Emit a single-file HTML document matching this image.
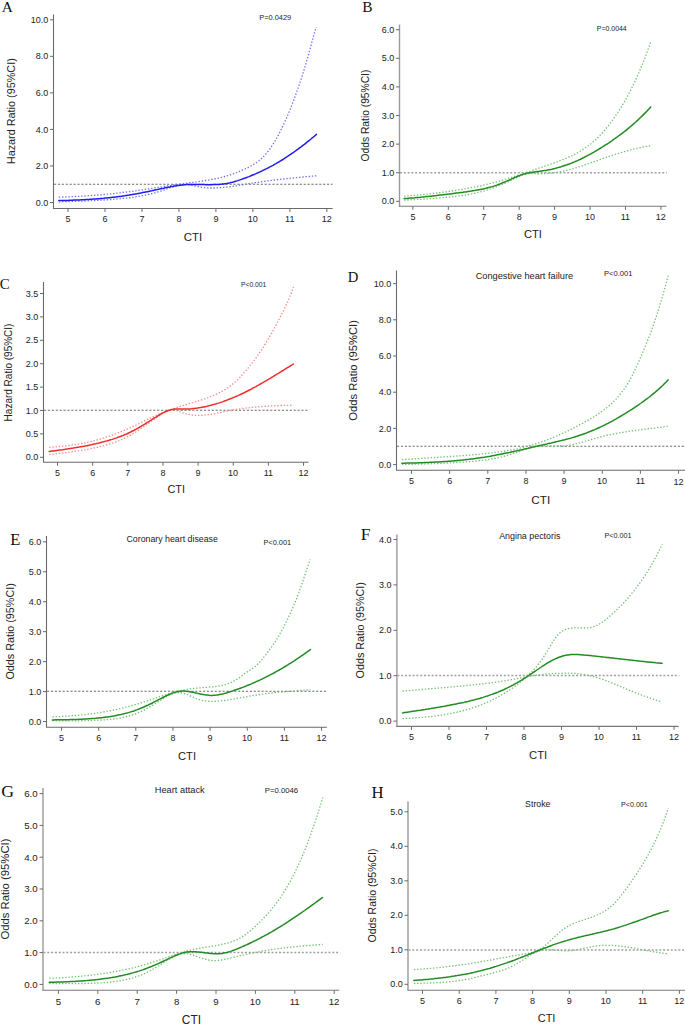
<!DOCTYPE html>
<html><head><meta charset="utf-8"><style>
html,body{margin:0;padding:0;background:#fff;}
body{width:685px;height:1025px;overflow:hidden;}
svg{display:block;}
</style></head><body>
<svg width="685" height="1025" viewBox="0 0 685 1025">
<rect width="685" height="1025" fill="#fff"/>
<path d="M53.50,14.40 L53.50,208.50 L332.60,208.50" fill="none" stroke="#6a6a6a" stroke-width="1.1"/>
<line x1="50.00" y1="202.50" x2="53.50" y2="202.50" stroke="#6a6a6a" stroke-width="1"/>
<text x="35.65" y="205.60" font-family="Liberation Sans" font-size="9.00" fill="#222">0.0</text>
<line x1="50.00" y1="165.96" x2="53.50" y2="165.96" stroke="#6a6a6a" stroke-width="1"/>
<text x="35.65" y="169.06" font-family="Liberation Sans" font-size="9.00" fill="#222">2.0</text>
<line x1="50.00" y1="129.42" x2="53.50" y2="129.42" stroke="#6a6a6a" stroke-width="1"/>
<text x="35.65" y="132.53" font-family="Liberation Sans" font-size="9.00" fill="#222">4.0</text>
<line x1="50.00" y1="92.88" x2="53.50" y2="92.88" stroke="#6a6a6a" stroke-width="1"/>
<text x="35.65" y="95.98" font-family="Liberation Sans" font-size="9.00" fill="#222">6.0</text>
<line x1="50.00" y1="56.34" x2="53.50" y2="56.34" stroke="#6a6a6a" stroke-width="1"/>
<text x="35.65" y="59.45" font-family="Liberation Sans" font-size="9.00" fill="#222">8.0</text>
<line x1="50.00" y1="19.80" x2="53.50" y2="19.80" stroke="#6a6a6a" stroke-width="1"/>
<text x="30.65" y="22.91" font-family="Liberation Sans" font-size="9.00" fill="#222">10.0</text>
<line x1="68.00" y1="208.50" x2="68.00" y2="212.00" stroke="#6a6a6a" stroke-width="1"/>
<text x="65.50" y="221.96" font-family="Liberation Sans" font-size="9.00" fill="#222">5</text>
<line x1="104.98" y1="208.50" x2="104.98" y2="212.00" stroke="#6a6a6a" stroke-width="1"/>
<text x="102.46" y="222.00" font-family="Liberation Sans" font-size="9.00" fill="#222">6</text>
<line x1="141.96" y1="208.50" x2="141.96" y2="212.00" stroke="#6a6a6a" stroke-width="1"/>
<text x="139.46" y="222.00" font-family="Liberation Sans" font-size="9.00" fill="#222">7</text>
<line x1="178.94" y1="208.50" x2="178.94" y2="212.00" stroke="#6a6a6a" stroke-width="1"/>
<text x="176.42" y="222.00" font-family="Liberation Sans" font-size="9.00" fill="#222">8</text>
<line x1="215.92" y1="208.50" x2="215.92" y2="212.00" stroke="#6a6a6a" stroke-width="1"/>
<text x="213.42" y="222.00" font-family="Liberation Sans" font-size="9.00" fill="#222">9</text>
<line x1="252.90" y1="208.50" x2="252.90" y2="212.00" stroke="#6a6a6a" stroke-width="1"/>
<text x="247.75" y="222.00" font-family="Liberation Sans" font-size="9.00" fill="#222">10</text>
<line x1="289.88" y1="208.50" x2="289.88" y2="212.00" stroke="#6a6a6a" stroke-width="1"/>
<text x="285.11" y="222.00" font-family="Liberation Sans" font-size="9.00" fill="#222">11</text>
<line x1="326.86" y1="208.50" x2="326.86" y2="212.00" stroke="#6a6a6a" stroke-width="1"/>
<text x="321.75" y="222.05" font-family="Liberation Sans" font-size="9.00" fill="#222">12</text>
<line x1="54.00" y1="184.30" x2="332.60" y2="184.30" stroke="#6e6e6e" stroke-width="1.1" stroke-dasharray="2.2 1.7"/>
<path d="M58.8,197.1 L60.3,197.1 L61.8,197.1 L63.3,197.0 L64.8,197.0 L66.3,196.9 L67.8,196.8 L69.3,196.8 L70.8,196.7 L72.3,196.7 L73.8,196.6 L75.3,196.5 L76.8,196.4 L78.3,196.4 L79.8,196.3 L81.2,196.2 L82.7,196.1 L84.2,196.0 L85.7,195.9 L87.2,195.8 L88.7,195.7 L90.2,195.6 L91.7,195.5 L93.2,195.4 L94.7,195.3 L96.2,195.2 L97.7,195.0 L99.2,194.9 L100.7,194.8 L102.2,194.7 L103.7,194.5 L105.2,194.4 L106.7,194.2 L108.2,194.1 L109.7,194.0 L111.2,193.8 L112.7,193.6 L114.2,193.5 L115.7,193.3 L117.2,193.1 L118.7,193.0 L120.2,192.8 L121.7,192.6 L123.1,192.4 L124.6,192.3 L126.1,192.1 L127.6,191.9 L129.1,191.7 L130.6,191.5 L132.1,191.3 L133.6,191.1 L135.1,190.9 L136.6,190.7 L138.1,190.4 L139.6,190.2 L141.1,190.0 L142.6,189.8 L144.1,189.6 L145.6,189.3 L147.1,189.1 L148.6,188.9 L150.1,188.6 L151.6,188.4 L153.1,188.2 L154.6,187.9 L156.1,187.7 L157.6,187.5 L159.1,187.2 L160.6,187.0 L162.1,186.8 L163.6,186.5 L165.1,186.3 L166.5,186.0 L168.0,185.8 L169.5,185.6 L171.0,185.4 L172.5,185.1 L174.0,184.9 L175.5,184.7 L177.0,184.5 L178.5,184.3 L180.0,184.1 L181.5,183.9 L183.0,183.7 L184.5,183.5 L186.0,183.3 L187.5,183.1 L189.0,182.9 L190.5,182.7 L192.0,182.5 L193.5,182.3 L195.0,182.1 L196.5,181.9 L198.0,181.6 L199.5,181.4 L201.0,181.2 L202.5,181.0 L204.0,180.8 L205.5,180.5 L207.0,180.3 L208.5,180.1 L209.9,179.8 L211.4,179.5 L212.9,179.3 L214.4,179.0 L215.9,178.7 L217.4,178.4 L218.9,178.0 L220.4,177.7 L221.9,177.3 L223.4,176.9 L224.9,176.5 L226.4,176.1 L227.9,175.6 L229.4,175.2 L230.9,174.7 L232.4,174.2 L233.9,173.6 L235.4,173.0 L236.9,172.5 L238.4,171.9 L239.9,171.2 L241.4,170.6 L242.9,169.9 L244.4,169.2 L245.9,168.5 L247.4,167.8 L248.9,167.1 L250.4,166.3 L251.8,165.5 L253.3,164.6 L254.8,163.7 L256.3,162.7 L257.8,161.6 L259.3,160.5 L260.8,159.2 L262.3,157.8 L263.8,156.3 L265.3,154.6 L266.8,152.9 L268.3,151.0 L269.8,149.0 L271.3,146.8 L272.8,144.6 L274.3,142.2 L275.8,139.6 L277.3,137.0 L278.8,134.2 L280.3,131.3 L281.8,128.2 L283.3,125.1 L284.8,121.8 L286.3,118.4 L287.8,115.0 L289.3,111.4 L290.8,107.8 L292.3,104.0 L293.8,100.1 L295.2,96.2 L296.7,92.0 L298.2,87.8 L299.7,83.4 L301.2,78.9 L302.7,74.3 L304.2,69.5 L305.7,64.5 L307.2,59.3 L308.7,54.0 L310.2,48.5 L311.7,42.8 L313.2,37.3 L314.7,32.0 L316.2,27.3" fill="none" stroke="#7070f2" stroke-width="1.3" stroke-dasharray="1.4 1.8"/>
<path d="M58.8,201.8 L60.3,201.8 L61.8,201.7 L63.3,201.7 L64.8,201.7 L66.3,201.6 L67.8,201.6 L69.3,201.5 L70.8,201.5 L72.3,201.4 L73.8,201.4 L75.3,201.3 L76.8,201.3 L78.3,201.2 L79.8,201.2 L81.3,201.1 L82.8,201.1 L84.3,201.0 L85.8,200.9 L87.3,200.9 L88.8,200.8 L90.3,200.7 L91.7,200.7 L93.2,200.6 L94.7,200.5 L96.2,200.4 L97.7,200.3 L99.2,200.3 L100.7,200.2 L102.2,200.1 L103.7,200.0 L105.2,199.9 L106.7,199.8 L108.2,199.7 L109.7,199.6 L111.2,199.5 L112.7,199.4 L114.2,199.2 L115.7,199.1 L117.2,199.0 L118.7,198.9 L120.2,198.7 L121.7,198.6 L123.2,198.4 L124.7,198.3 L126.2,198.1 L127.7,197.9 L129.2,197.8 L130.7,197.6 L132.2,197.4 L133.7,197.2 L135.2,196.9 L136.7,196.7 L138.2,196.5 L139.7,196.2 L141.2,196.0 L142.7,195.7 L144.2,195.4 L145.7,195.1 L147.2,194.8 L148.7,194.4 L150.2,194.1 L151.7,193.7 L153.2,193.3 L154.7,192.9 L156.1,192.5 L157.6,192.0 L159.1,191.6 L160.6,191.1 L162.1,190.6 L163.6,190.1 L165.1,189.6 L166.6,189.0 L168.1,188.5 L169.6,188.0 L171.1,187.5 L172.6,187.0 L174.1,186.6 L175.6,186.1 L177.1,185.7 L178.6,185.4 L180.1,185.1 L181.6,184.9 L183.1,184.7 L184.6,184.6 L186.1,184.6 L187.6,184.7 L189.1,184.8 L190.6,185.0 L192.1,185.3 L193.6,185.6 L195.1,185.9 L196.6,186.3 L198.1,186.6 L199.6,186.9 L201.1,187.2 L202.6,187.4 L204.1,187.6 L205.6,187.7 L207.1,187.9 L208.6,187.9 L210.1,188.0 L211.6,188.0 L213.1,188.0 L214.6,188.0 L216.1,188.0 L217.6,187.9 L219.1,187.8 L220.5,187.7 L222.0,187.6 L223.5,187.4 L225.0,187.3 L226.5,187.1 L228.0,186.9 L229.5,186.7 L231.0,186.5 L232.5,186.3 L234.0,186.0 L235.5,185.8 L237.0,185.6 L238.5,185.3 L240.0,185.1 L241.5,184.8 L243.0,184.6 L244.5,184.3 L246.0,184.1 L247.5,183.9 L249.0,183.6 L250.5,183.4 L252.0,183.2 L253.5,182.9 L255.0,182.7 L256.5,182.5 L258.0,182.3 L259.5,182.0 L261.0,181.8 L262.5,181.6 L264.0,181.4 L265.5,181.2 L267.0,181.0 L268.5,180.8 L270.0,180.6 L271.5,180.4 L273.0,180.2 L274.5,180.0 L276.0,179.8 L277.5,179.7 L279.0,179.5 L280.5,179.3 L282.0,179.1 L283.5,179.0 L284.9,178.8 L286.4,178.6 L287.9,178.5 L289.4,178.3 L290.9,178.2 L292.4,178.0 L293.9,177.9 L295.4,177.7 L296.9,177.6 L298.4,177.4 L299.9,177.3 L301.4,177.1 L302.9,177.0 L304.4,176.9 L305.9,176.7 L307.4,176.6 L308.9,176.5 L310.4,176.3 L311.9,176.2 L313.4,176.1 L314.9,175.9 L316.4,175.8" fill="none" stroke="#7070f2" stroke-width="1.3" stroke-dasharray="1.4 1.8"/>
<path d="M58.8,200.6 L60.3,200.6 L61.8,200.5 L63.3,200.5 L64.8,200.4 L66.3,200.4 L67.8,200.4 L69.3,200.3 L70.8,200.3 L72.3,200.2 L73.8,200.1 L75.3,200.1 L76.8,200.0 L78.3,200.0 L79.8,199.9 L81.3,199.8 L82.8,199.7 L84.3,199.7 L85.8,199.6 L87.3,199.5 L88.8,199.4 L90.3,199.3 L91.7,199.2 L93.2,199.1 L94.7,199.0 L96.2,198.9 L97.7,198.8 L99.2,198.7 L100.7,198.5 L102.2,198.4 L103.7,198.3 L105.2,198.1 L106.7,198.0 L108.2,197.8 L109.7,197.7 L111.2,197.5 L112.7,197.3 L114.2,197.2 L115.7,197.0 L117.2,196.8 L118.7,196.6 L120.2,196.4 L121.7,196.2 L123.2,196.0 L124.7,195.8 L126.2,195.5 L127.7,195.3 L129.2,195.1 L130.7,194.8 L132.2,194.6 L133.7,194.3 L135.2,194.0 L136.7,193.8 L138.2,193.5 L139.7,193.2 L141.2,192.9 L142.7,192.6 L144.2,192.3 L145.7,192.0 L147.2,191.7 L148.7,191.4 L150.2,191.1 L151.7,190.8 L153.2,190.4 L154.7,190.1 L156.1,189.8 L157.6,189.5 L159.1,189.1 L160.6,188.8 L162.1,188.5 L163.6,188.2 L165.1,187.8 L166.6,187.5 L168.1,187.2 L169.6,186.9 L171.1,186.6 L172.6,186.4 L174.1,186.1 L175.6,185.9 L177.1,185.6 L178.6,185.4 L180.1,185.2 L181.6,185.0 L183.1,184.9 L184.6,184.7 L186.1,184.6 L187.6,184.5 L189.1,184.5 L190.6,184.4 L192.1,184.4 L193.6,184.4 L195.1,184.4 L196.6,184.5 L198.1,184.5 L199.6,184.5 L201.1,184.6 L202.6,184.6 L204.1,184.6 L205.6,184.7 L207.1,184.7 L208.6,184.7 L210.1,184.7 L211.6,184.7 L213.1,184.6 L214.6,184.6 L216.1,184.5 L217.6,184.5 L219.1,184.4 L220.5,184.2 L222.0,184.1 L223.5,183.9 L225.0,183.7 L226.5,183.5 L228.0,183.2 L229.5,182.9 L231.0,182.5 L232.5,182.2 L234.0,181.8 L235.5,181.3 L237.0,180.9 L238.5,180.4 L240.0,179.9 L241.5,179.4 L243.0,178.8 L244.5,178.3 L246.0,177.7 L247.5,177.1 L249.0,176.6 L250.5,176.0 L252.0,175.3 L253.5,174.7 L255.0,174.1 L256.5,173.4 L258.0,172.8 L259.5,172.1 L261.0,171.4 L262.5,170.7 L264.0,169.9 L265.5,169.2 L267.0,168.4 L268.5,167.7 L270.0,166.9 L271.5,166.1 L273.0,165.3 L274.5,164.4 L276.0,163.6 L277.5,162.7 L279.0,161.8 L280.5,160.9 L282.0,160.0 L283.5,159.1 L284.9,158.1 L286.4,157.1 L287.9,156.2 L289.4,155.2 L290.9,154.1 L292.4,153.1 L293.9,152.1 L295.4,151.0 L296.9,149.9 L298.4,148.8 L299.9,147.7 L301.4,146.6 L302.9,145.4 L304.4,144.3 L305.9,143.1 L307.4,141.9 L308.9,140.7 L310.4,139.5 L311.9,138.2 L313.4,137.0 L314.9,135.7 L316.4,134.4" fill="none" stroke="#1e1ef0" stroke-width="1.5" stroke-linecap="round" stroke-linejoin="round"/>
<text x="1.85" y="11.90" font-family="Liberation Serif" font-size="15.38" fill="#111">A</text>
<text transform="translate(14.84,164.17) rotate(-90)" x="0" y="0" font-family="Liberation Sans" font-size="10.84" fill="#222">Hazard Ratio (95%CI)</text>
<text x="183.73" y="241.39" font-family="Liberation Sans" font-size="11.43" fill="#222">CTI</text>
<text x="259.21" y="19.71" font-family="Liberation Sans" font-size="7.41" fill="#222">P=0.0429</text>
<line x1="399.50" y1="24.50" x2="399.50" y2="206.30" stroke="#9a9a9a" stroke-width="1.4"/>
<line x1="398.80" y1="206.30" x2="666.40" y2="206.30" stroke="#7a7a7a" stroke-width="1.1"/>
<line x1="396.00" y1="201.30" x2="399.50" y2="201.30" stroke="#6a6a6a" stroke-width="1"/>
<text x="381.65" y="204.41" font-family="Liberation Sans" font-size="9.00" fill="#222">0.0</text>
<line x1="396.00" y1="172.70" x2="399.50" y2="172.70" stroke="#6a6a6a" stroke-width="1"/>
<text x="381.65" y="175.81" font-family="Liberation Sans" font-size="9.00" fill="#222">1.0</text>
<line x1="396.00" y1="144.10" x2="399.50" y2="144.10" stroke="#6a6a6a" stroke-width="1"/>
<text x="381.65" y="147.21" font-family="Liberation Sans" font-size="9.00" fill="#222">2.0</text>
<line x1="396.00" y1="115.50" x2="399.50" y2="115.50" stroke="#6a6a6a" stroke-width="1"/>
<text x="381.65" y="118.61" font-family="Liberation Sans" font-size="9.00" fill="#222">3.0</text>
<line x1="396.00" y1="86.90" x2="399.50" y2="86.90" stroke="#6a6a6a" stroke-width="1"/>
<text x="381.65" y="90.01" font-family="Liberation Sans" font-size="9.00" fill="#222">4.0</text>
<line x1="396.00" y1="58.30" x2="399.50" y2="58.30" stroke="#6a6a6a" stroke-width="1"/>
<text x="381.65" y="61.41" font-family="Liberation Sans" font-size="9.00" fill="#222">5.0</text>
<line x1="396.00" y1="29.70" x2="399.50" y2="29.70" stroke="#6a6a6a" stroke-width="1"/>
<text x="381.65" y="32.80" font-family="Liberation Sans" font-size="9.00" fill="#222">6.0</text>
<line x1="412.90" y1="206.30" x2="412.90" y2="209.80" stroke="#6a6a6a" stroke-width="1"/>
<text x="410.40" y="219.76" font-family="Liberation Sans" font-size="9.00" fill="#222">5</text>
<line x1="448.33" y1="206.30" x2="448.33" y2="209.80" stroke="#6a6a6a" stroke-width="1"/>
<text x="445.81" y="219.80" font-family="Liberation Sans" font-size="9.00" fill="#222">6</text>
<line x1="483.76" y1="206.30" x2="483.76" y2="209.80" stroke="#6a6a6a" stroke-width="1"/>
<text x="481.26" y="219.80" font-family="Liberation Sans" font-size="9.00" fill="#222">7</text>
<line x1="519.19" y1="206.30" x2="519.19" y2="209.80" stroke="#6a6a6a" stroke-width="1"/>
<text x="516.67" y="219.80" font-family="Liberation Sans" font-size="9.00" fill="#222">8</text>
<line x1="554.62" y1="206.30" x2="554.62" y2="209.80" stroke="#6a6a6a" stroke-width="1"/>
<text x="552.12" y="219.80" font-family="Liberation Sans" font-size="9.00" fill="#222">9</text>
<line x1="590.05" y1="206.30" x2="590.05" y2="209.80" stroke="#6a6a6a" stroke-width="1"/>
<text x="584.90" y="219.80" font-family="Liberation Sans" font-size="9.00" fill="#222">10</text>
<line x1="625.48" y1="206.30" x2="625.48" y2="209.80" stroke="#6a6a6a" stroke-width="1"/>
<text x="620.71" y="219.80" font-family="Liberation Sans" font-size="9.00" fill="#222">11</text>
<line x1="660.91" y1="206.30" x2="660.91" y2="209.80" stroke="#6a6a6a" stroke-width="1"/>
<text x="655.80" y="219.85" font-family="Liberation Sans" font-size="9.00" fill="#222">12</text>
<line x1="400.00" y1="172.70" x2="666.70" y2="172.70" stroke="#a0a0a0" stroke-width="1.5" stroke-dasharray="2 1.8"/>
<path d="M404.1,196.2 L405.6,196.1 L407.1,195.9 L408.6,195.8 L410.1,195.7 L411.6,195.6 L413.1,195.5 L414.6,195.3 L416.1,195.2 L417.6,195.1 L419.0,194.9 L420.5,194.8 L422.0,194.7 L423.5,194.5 L425.0,194.4 L426.5,194.2 L428.0,194.0 L429.5,193.9 L431.0,193.7 L432.5,193.5 L434.0,193.4 L435.5,193.2 L437.0,193.0 L438.5,192.8 L440.0,192.6 L441.5,192.4 L443.0,192.2 L444.5,192.0 L445.9,191.8 L447.4,191.6 L448.9,191.4 L450.4,191.2 L451.9,191.0 L453.4,190.7 L454.9,190.5 L456.4,190.3 L457.9,190.0 L459.4,189.8 L460.9,189.5 L462.4,189.3 L463.9,189.0 L465.4,188.8 L466.9,188.5 L468.4,188.2 L469.9,187.9 L471.4,187.7 L472.8,187.4 L474.3,187.1 L475.8,186.8 L477.3,186.5 L478.8,186.1 L480.3,185.8 L481.8,185.5 L483.3,185.2 L484.8,184.8 L486.3,184.5 L487.8,184.1 L489.3,183.7 L490.8,183.4 L492.3,183.0 L493.8,182.6 L495.3,182.2 L496.8,181.8 L498.3,181.4 L499.8,180.9 L501.2,180.5 L502.7,180.1 L504.2,179.6 L505.7,179.2 L507.2,178.7 L508.7,178.2 L510.2,177.8 L511.7,177.3 L513.2,176.8 L514.7,176.3 L516.2,175.8 L517.7,175.3 L519.2,174.8 L520.7,174.3 L522.2,173.8 L523.7,173.3 L525.2,172.8 L526.7,172.3 L528.1,171.8 L529.6,171.3 L531.1,170.8 L532.6,170.3 L534.1,169.8 L535.6,169.3 L537.1,168.7 L538.6,168.2 L540.1,167.7 L541.6,167.2 L543.1,166.7 L544.6,166.2 L546.1,165.7 L547.6,165.2 L549.1,164.7 L550.6,164.2 L552.1,163.6 L553.6,163.1 L555.0,162.6 L556.5,162.0 L558.0,161.5 L559.5,160.9 L561.0,160.3 L562.5,159.7 L564.0,159.1 L565.5,158.5 L567.0,157.9 L568.5,157.2 L570.0,156.5 L571.5,155.8 L573.0,155.1 L574.5,154.4 L576.0,153.6 L577.5,152.8 L579.0,151.9 L580.5,151.1 L582.0,150.2 L583.4,149.2 L584.9,148.2 L586.4,147.2 L587.9,146.1 L589.4,145.0 L590.9,143.8 L592.4,142.5 L593.9,141.2 L595.4,139.9 L596.9,138.5 L598.4,137.0 L599.9,135.5 L601.4,133.9 L602.9,132.2 L604.4,130.5 L605.9,128.7 L607.4,126.9 L608.9,125.0 L610.3,123.1 L611.8,121.1 L613.3,119.0 L614.8,116.9 L616.3,114.7 L617.8,112.5 L619.3,110.1 L620.8,107.8 L622.3,105.3 L623.8,102.8 L625.3,100.2 L626.8,97.5 L628.3,94.7 L629.8,91.9 L631.3,88.9 L632.8,85.9 L634.3,82.8 L635.8,79.6 L637.2,76.4 L638.7,73.0 L640.2,69.5 L641.7,65.9 L643.2,62.2 L644.7,58.4 L646.2,54.5 L647.7,50.5 L649.2,46.4 L650.7,42.1" fill="none" stroke="#74c274" stroke-width="1.3" stroke-dasharray="1.4 1.8"/>
<path d="M404.1,200.1 L405.6,200.0 L407.1,200.0 L408.6,199.9 L410.1,199.8 L411.6,199.7 L413.0,199.7 L414.5,199.6 L416.0,199.5 L417.5,199.4 L419.0,199.4 L420.5,199.3 L422.0,199.2 L423.5,199.1 L425.0,199.0 L426.5,198.9 L428.0,198.8 L429.4,198.7 L430.9,198.6 L432.4,198.5 L433.9,198.4 L435.4,198.3 L436.9,198.2 L438.4,198.0 L439.9,197.9 L441.4,197.8 L442.9,197.6 L444.4,197.5 L445.8,197.4 L447.3,197.2 L448.8,197.1 L450.3,196.9 L451.8,196.7 L453.3,196.6 L454.8,196.4 L456.3,196.2 L457.8,196.0 L459.3,195.8 L460.8,195.6 L462.2,195.4 L463.7,195.2 L465.2,195.0 L466.7,194.7 L468.2,194.5 L469.7,194.2 L471.2,193.9 L472.7,193.6 L474.2,193.3 L475.7,193.0 L477.2,192.7 L478.6,192.3 L480.1,192.0 L481.6,191.6 L483.1,191.2 L484.6,190.8 L486.1,190.3 L487.6,189.9 L489.1,189.4 L490.6,188.9 L492.1,188.4 L493.6,187.8 L495.0,187.3 L496.5,186.7 L498.0,186.1 L499.5,185.5 L501.0,184.9 L502.5,184.2 L504.0,183.6 L505.5,182.9 L507.0,182.2 L508.5,181.6 L510.0,180.9 L511.4,180.2 L512.9,179.4 L514.4,178.7 L515.9,178.0 L517.4,177.3 L518.9,176.6 L520.4,176.0 L521.9,175.4 L523.4,174.8 L524.9,174.3 L526.4,174.0 L527.8,173.7 L529.3,173.5 L530.8,173.4 L532.3,173.5 L533.8,173.5 L535.3,173.6 L536.8,173.7 L538.3,173.8 L539.8,173.8 L541.3,173.8 L542.8,173.8 L544.2,173.7 L545.7,173.6 L547.2,173.5 L548.7,173.4 L550.2,173.3 L551.7,173.1 L553.2,172.9 L554.7,172.7 L556.2,172.5 L557.7,172.2 L559.2,172.0 L560.6,171.7 L562.1,171.4 L563.6,171.0 L565.1,170.7 L566.6,170.4 L568.1,170.0 L569.6,169.6 L571.1,169.2 L572.6,168.8 L574.1,168.4 L575.6,167.9 L577.0,167.5 L578.5,167.0 L580.0,166.5 L581.5,166.1 L583.0,165.6 L584.5,165.1 L586.0,164.5 L587.5,164.0 L589.0,163.5 L590.5,163.0 L592.0,162.4 L593.4,161.9 L594.9,161.4 L596.4,160.9 L597.9,160.3 L599.4,159.8 L600.9,159.3 L602.4,158.8 L603.9,158.2 L605.4,157.7 L606.9,157.2 L608.4,156.7 L609.8,156.2 L611.3,155.7 L612.8,155.2 L614.3,154.7 L615.8,154.2 L617.3,153.7 L618.8,153.3 L620.3,152.8 L621.8,152.4 L623.3,151.9 L624.8,151.5 L626.2,151.1 L627.7,150.7 L629.2,150.3 L630.7,149.9 L632.2,149.5 L633.7,149.1 L635.2,148.8 L636.7,148.4 L638.2,148.1 L639.7,147.8 L641.2,147.5 L642.6,147.2 L644.1,146.9 L645.6,146.7 L647.1,146.4 L648.6,146.2 L650.1,146.0" fill="none" stroke="#74c274" stroke-width="1.3" stroke-dasharray="1.4 1.8"/>
<path d="M404.1,198.6 L405.6,198.5 L407.1,198.4 L408.6,198.2 L410.1,198.1 L411.6,198.0 L413.1,197.9 L414.6,197.8 L416.1,197.6 L417.6,197.5 L419.0,197.4 L420.5,197.2 L422.0,197.1 L423.5,196.9 L425.0,196.8 L426.5,196.6 L428.0,196.5 L429.5,196.3 L431.0,196.2 L432.5,196.0 L434.0,195.8 L435.5,195.7 L437.0,195.5 L438.5,195.3 L440.0,195.1 L441.5,195.0 L443.0,194.8 L444.5,194.6 L445.9,194.4 L447.4,194.2 L448.9,194.1 L450.4,193.9 L451.9,193.7 L453.4,193.5 L454.9,193.3 L456.4,193.1 L457.9,192.9 L459.4,192.7 L460.9,192.5 L462.4,192.4 L463.9,192.1 L465.4,191.9 L466.9,191.7 L468.4,191.5 L469.9,191.3 L471.4,191.1 L472.8,190.8 L474.3,190.6 L475.8,190.3 L477.3,190.1 L478.8,189.8 L480.3,189.5 L481.8,189.2 L483.3,188.9 L484.8,188.6 L486.3,188.2 L487.8,187.8 L489.3,187.4 L490.8,187.0 L492.3,186.6 L493.8,186.1 L495.3,185.6 L496.8,185.1 L498.3,184.5 L499.8,184.0 L501.2,183.4 L502.7,182.8 L504.2,182.2 L505.7,181.6 L507.2,180.9 L508.7,180.3 L510.2,179.6 L511.7,178.9 L513.2,178.3 L514.7,177.6 L516.2,177.0 L517.7,176.3 L519.2,175.7 L520.7,175.1 L522.2,174.6 L523.7,174.1 L525.2,173.7 L526.7,173.3 L528.1,173.0 L529.6,172.7 L531.1,172.4 L532.6,172.2 L534.1,172.0 L535.6,171.8 L537.1,171.6 L538.6,171.4 L540.1,171.2 L541.6,171.0 L543.1,170.8 L544.6,170.6 L546.1,170.4 L547.6,170.1 L549.1,169.8 L550.6,169.5 L552.1,169.2 L553.6,168.8 L555.0,168.4 L556.5,168.1 L558.0,167.6 L559.5,167.2 L561.0,166.8 L562.5,166.3 L564.0,165.8 L565.5,165.3 L567.0,164.8 L568.5,164.2 L570.0,163.7 L571.5,163.1 L573.0,162.5 L574.5,161.9 L576.0,161.2 L577.5,160.6 L579.0,159.9 L580.5,159.2 L582.0,158.5 L583.4,157.7 L584.9,157.0 L586.4,156.2 L587.9,155.4 L589.4,154.6 L590.9,153.8 L592.4,152.9 L593.9,152.1 L595.4,151.2 L596.9,150.3 L598.4,149.4 L599.9,148.5 L601.4,147.6 L602.9,146.7 L604.4,145.7 L605.9,144.7 L607.4,143.8 L608.9,142.8 L610.3,141.8 L611.8,140.8 L613.3,139.7 L614.8,138.7 L616.3,137.6 L617.8,136.5 L619.3,135.4 L620.8,134.3 L622.3,133.2 L623.8,132.0 L625.3,130.8 L626.8,129.6 L628.3,128.4 L629.8,127.2 L631.3,125.9 L632.8,124.6 L634.3,123.3 L635.8,122.0 L637.2,120.6 L638.7,119.2 L640.2,117.8 L641.7,116.4 L643.2,114.9 L644.7,113.4 L646.2,111.9 L647.7,110.3 L649.2,108.7 L650.7,107.1" fill="none" stroke="#228b22" stroke-width="1.5" stroke-linecap="round" stroke-linejoin="round"/>
<text x="362.35" y="11.82" font-family="Liberation Serif" font-size="15.38" fill="#111">B</text>
<text transform="translate(368.65,161.46) rotate(-90)" x="0" y="0" font-family="Liberation Sans" font-size="10.28" fill="#222">Odds Ratio (95%CI)</text>
<text x="523.94" y="237.95" font-family="Liberation Sans" font-size="11.16" fill="#222">CTI</text>
<text x="596.84" y="30.85" font-family="Liberation Sans" font-size="6.95" fill="#222">P=0.0044</text>
<path d="M43.50,281.90 L43.50,462.20 L308.50,462.20" fill="none" stroke="#6a6a6a" stroke-width="1.1"/>
<line x1="40.00" y1="457.30" x2="43.50" y2="457.30" stroke="#6a6a6a" stroke-width="1"/>
<text x="25.65" y="460.41" font-family="Liberation Sans" font-size="9.00" fill="#222">0.0</text>
<line x1="40.00" y1="433.90" x2="43.50" y2="433.90" stroke="#6a6a6a" stroke-width="1"/>
<text x="25.65" y="437.01" font-family="Liberation Sans" font-size="9.00" fill="#222">0.5</text>
<line x1="40.00" y1="410.50" x2="43.50" y2="410.50" stroke="#6a6a6a" stroke-width="1"/>
<text x="25.65" y="413.61" font-family="Liberation Sans" font-size="9.00" fill="#222">1.0</text>
<line x1="40.00" y1="387.10" x2="43.50" y2="387.10" stroke="#6a6a6a" stroke-width="1"/>
<text x="25.65" y="390.16" font-family="Liberation Sans" font-size="9.00" fill="#222">1.5</text>
<line x1="40.00" y1="363.70" x2="43.50" y2="363.70" stroke="#6a6a6a" stroke-width="1"/>
<text x="25.65" y="366.81" font-family="Liberation Sans" font-size="9.00" fill="#222">2.0</text>
<line x1="40.00" y1="340.30" x2="43.50" y2="340.30" stroke="#6a6a6a" stroke-width="1"/>
<text x="25.65" y="343.41" font-family="Liberation Sans" font-size="9.00" fill="#222">2.5</text>
<line x1="40.00" y1="316.90" x2="43.50" y2="316.90" stroke="#6a6a6a" stroke-width="1"/>
<text x="25.65" y="320.01" font-family="Liberation Sans" font-size="9.00" fill="#222">3.0</text>
<line x1="40.00" y1="293.50" x2="43.50" y2="293.50" stroke="#6a6a6a" stroke-width="1"/>
<text x="25.65" y="296.61" font-family="Liberation Sans" font-size="9.00" fill="#222">3.5</text>
<line x1="57.50" y1="462.20" x2="57.50" y2="465.70" stroke="#6a6a6a" stroke-width="1"/>
<text x="55.00" y="475.56" font-family="Liberation Sans" font-size="9.00" fill="#222">5</text>
<line x1="92.65" y1="462.20" x2="92.65" y2="465.70" stroke="#6a6a6a" stroke-width="1"/>
<text x="90.13" y="475.61" font-family="Liberation Sans" font-size="9.00" fill="#222">6</text>
<line x1="127.80" y1="462.20" x2="127.80" y2="465.70" stroke="#6a6a6a" stroke-width="1"/>
<text x="125.30" y="475.61" font-family="Liberation Sans" font-size="9.00" fill="#222">7</text>
<line x1="162.95" y1="462.20" x2="162.95" y2="465.70" stroke="#6a6a6a" stroke-width="1"/>
<text x="160.43" y="475.61" font-family="Liberation Sans" font-size="9.00" fill="#222">8</text>
<line x1="198.10" y1="462.20" x2="198.10" y2="465.70" stroke="#6a6a6a" stroke-width="1"/>
<text x="195.60" y="475.61" font-family="Liberation Sans" font-size="9.00" fill="#222">9</text>
<line x1="233.25" y1="462.20" x2="233.25" y2="465.70" stroke="#6a6a6a" stroke-width="1"/>
<text x="228.10" y="475.61" font-family="Liberation Sans" font-size="9.00" fill="#222">10</text>
<line x1="268.40" y1="462.20" x2="268.40" y2="465.70" stroke="#6a6a6a" stroke-width="1"/>
<text x="263.63" y="475.61" font-family="Liberation Sans" font-size="9.00" fill="#222">11</text>
<line x1="303.55" y1="462.20" x2="303.55" y2="465.70" stroke="#6a6a6a" stroke-width="1"/>
<text x="298.44" y="475.65" font-family="Liberation Sans" font-size="9.00" fill="#222">12</text>
<line x1="44.00" y1="410.30" x2="309.00" y2="410.30" stroke="#6e6e6e" stroke-width="1.1" stroke-dasharray="2.2 1.7"/>
<path d="M49.2,447.3 L50.7,447.2 L52.2,447.1 L53.7,447.0 L55.2,446.9 L56.7,446.8 L58.2,446.7 L59.7,446.5 L61.2,446.4 L62.7,446.2 L64.2,446.1 L65.7,445.9 L67.2,445.7 L68.7,445.5 L70.2,445.3 L71.7,445.1 L73.2,444.9 L74.7,444.7 L76.2,444.5 L77.7,444.2 L79.2,443.9 L80.7,443.7 L82.2,443.4 L83.7,443.1 L85.2,442.8 L86.7,442.5 L88.2,442.1 L89.7,441.8 L91.2,441.5 L92.7,441.1 L94.2,440.7 L95.7,440.3 L97.2,439.9 L98.7,439.5 L100.2,439.1 L101.7,438.6 L103.2,438.2 L104.7,437.7 L106.2,437.2 L107.7,436.7 L109.2,436.2 L110.6,435.7 L112.1,435.2 L113.6,434.6 L115.1,434.0 L116.6,433.5 L118.1,432.9 L119.6,432.3 L121.1,431.7 L122.6,431.0 L124.1,430.4 L125.6,429.8 L127.1,429.1 L128.6,428.4 L130.1,427.7 L131.6,427.1 L133.1,426.4 L134.6,425.7 L136.1,425.0 L137.6,424.2 L139.1,423.5 L140.6,422.8 L142.1,422.1 L143.6,421.4 L145.1,420.6 L146.6,419.9 L148.1,419.2 L149.6,418.5 L151.1,417.8 L152.6,417.1 L154.1,416.4 L155.6,415.7 L157.1,415.0 L158.6,414.4 L160.1,413.7 L161.6,413.1 L163.1,412.5 L164.6,411.9 L166.1,411.3 L167.6,410.7 L169.1,410.2 L170.6,409.6 L172.1,409.1 L173.6,408.6 L175.1,408.1 L176.6,407.6 L178.1,407.1 L179.6,406.6 L181.1,406.1 L182.6,405.7 L184.1,405.2 L185.6,404.8 L187.1,404.3 L188.6,403.9 L190.1,403.4 L191.6,403.0 L193.1,402.5 L194.6,402.0 L196.1,401.6 L197.6,401.1 L199.1,400.6 L200.6,400.2 L202.1,399.7 L203.6,399.2 L205.1,398.7 L206.6,398.1 L208.1,397.6 L209.6,397.0 L211.1,396.4 L212.6,395.8 L214.1,395.2 L215.6,394.5 L217.1,393.8 L218.6,393.1 L220.1,392.3 L221.6,391.5 L223.1,390.7 L224.6,389.8 L226.1,388.9 L227.6,387.9 L229.1,386.9 L230.6,385.8 L232.1,384.7 L233.5,383.4 L235.0,382.2 L236.5,380.8 L238.0,379.4 L239.5,377.9 L241.0,376.3 L242.5,374.6 L244.0,372.9 L245.5,371.2 L247.0,369.4 L248.5,367.6 L250.0,365.7 L251.5,363.8 L253.0,361.9 L254.5,359.9 L256.0,357.9 L257.5,355.8 L259.0,353.6 L260.5,351.4 L262.0,349.1 L263.5,346.8 L265.0,344.4 L266.5,341.9 L268.0,339.4 L269.5,336.8 L271.0,334.2 L272.5,331.6 L274.0,328.8 L275.5,326.1 L277.0,323.3 L278.5,320.4 L280.0,317.6 L281.5,314.7 L283.0,311.7 L284.5,308.6 L286.0,305.4 L287.5,302.1 L289.0,298.6 L290.5,295.0 L292.0,291.1 L293.5,287.0" fill="none" stroke="#f78a8a" stroke-width="1.3" stroke-dasharray="1.4 1.8"/>
<path d="M49.2,454.4 L50.7,454.2 L52.2,454.1 L53.7,454.0 L55.2,453.8 L56.7,453.6 L58.2,453.5 L59.7,453.3 L61.2,453.1 L62.7,453.0 L64.2,452.8 L65.7,452.6 L67.2,452.4 L68.7,452.2 L70.2,452.0 L71.7,451.8 L73.2,451.6 L74.7,451.4 L76.2,451.2 L77.7,450.9 L79.2,450.7 L80.7,450.5 L82.2,450.2 L83.7,449.9 L85.2,449.7 L86.7,449.4 L88.2,449.1 L89.7,448.8 L91.1,448.5 L92.6,448.2 L94.1,447.9 L95.6,447.6 L97.1,447.3 L98.6,446.9 L100.1,446.6 L101.6,446.2 L103.1,445.8 L104.6,445.4 L106.1,445.0 L107.6,444.6 L109.1,444.1 L110.6,443.6 L112.1,443.2 L113.6,442.7 L115.1,442.1 L116.6,441.6 L118.1,441.0 L119.6,440.4 L121.1,439.8 L122.6,439.1 L124.1,438.5 L125.6,437.8 L127.1,437.0 L128.6,436.2 L130.1,435.4 L131.6,434.5 L133.1,433.6 L134.6,432.7 L136.1,431.8 L137.6,430.8 L139.1,429.8 L140.6,428.8 L142.1,427.8 L143.6,426.8 L145.1,425.7 L146.6,424.7 L148.1,423.7 L149.6,422.6 L151.1,421.5 L152.6,420.5 L154.1,419.4 L155.6,418.3 L157.1,417.2 L158.6,416.2 L160.1,415.1 L161.6,414.0 L163.1,413.0 L164.6,412.1 L166.1,411.3 L167.6,410.6 L169.1,410.1 L170.6,409.8 L172.0,409.7 L173.5,409.8 L175.0,410.0 L176.5,410.4 L178.0,410.9 L179.5,411.5 L181.0,412.1 L182.5,412.7 L184.0,413.2 L185.5,413.7 L187.0,414.1 L188.5,414.4 L190.0,414.7 L191.5,414.9 L193.0,415.1 L194.5,415.2 L196.0,415.3 L197.5,415.4 L199.0,415.4 L200.5,415.3 L202.0,415.3 L203.5,415.2 L205.0,415.1 L206.5,414.9 L208.0,414.7 L209.5,414.5 L211.0,414.3 L212.5,414.0 L214.0,413.8 L215.5,413.5 L217.0,413.2 L218.5,412.9 L220.0,412.6 L221.5,412.3 L223.0,412.0 L224.5,411.7 L226.0,411.4 L227.5,411.1 L229.0,410.8 L230.5,410.5 L232.0,410.2 L233.5,409.9 L235.0,409.7 L236.5,409.4 L238.0,409.2 L239.5,409.0 L241.0,408.7 L242.5,408.5 L244.0,408.3 L245.5,408.1 L247.0,407.9 L248.5,407.8 L250.0,407.6 L251.5,407.4 L252.9,407.3 L254.4,407.1 L255.9,407.0 L257.4,406.8 L258.9,406.7 L260.4,406.6 L261.9,406.5 L263.4,406.4 L264.9,406.3 L266.4,406.2 L267.9,406.1 L269.4,406.0 L270.9,405.9 L272.4,405.8 L273.9,405.8 L275.4,405.7 L276.9,405.6 L278.4,405.6 L279.9,405.5 L281.4,405.5 L282.9,405.4 L284.4,405.4 L285.9,405.4 L287.4,405.3 L288.9,405.3 L290.4,405.3 L291.9,405.2 L293.4,405.2" fill="none" stroke="#f78a8a" stroke-width="1.3" stroke-dasharray="1.4 1.8"/>
<path d="M49.2,451.4 L50.7,451.2 L52.2,451.0 L53.7,450.9 L55.2,450.7 L56.7,450.5 L58.2,450.3 L59.7,450.1 L61.2,449.9 L62.7,449.7 L64.2,449.4 L65.7,449.2 L67.2,449.0 L68.7,448.8 L70.2,448.6 L71.7,448.3 L73.2,448.1 L74.7,447.8 L76.2,447.6 L77.7,447.3 L79.2,447.1 L80.7,446.8 L82.2,446.5 L83.7,446.3 L85.2,446.0 L86.7,445.7 L88.2,445.4 L89.7,445.1 L91.1,444.8 L92.6,444.4 L94.1,444.1 L95.6,443.8 L97.1,443.4 L98.6,443.1 L100.1,442.7 L101.6,442.3 L103.1,441.9 L104.6,441.5 L106.1,441.1 L107.6,440.7 L109.1,440.3 L110.6,439.8 L112.1,439.4 L113.6,438.9 L115.1,438.4 L116.6,437.9 L118.1,437.3 L119.6,436.8 L121.1,436.2 L122.6,435.6 L124.1,435.0 L125.6,434.4 L127.1,433.7 L128.6,433.0 L130.1,432.3 L131.6,431.5 L133.1,430.8 L134.6,430.0 L136.1,429.2 L137.6,428.3 L139.1,427.5 L140.6,426.6 L142.1,425.7 L143.6,424.8 L145.1,423.9 L146.6,422.9 L148.1,422.0 L149.6,421.0 L151.1,420.1 L152.6,419.1 L154.1,418.2 L155.6,417.3 L157.1,416.3 L158.6,415.4 L160.1,414.5 L161.6,413.7 L163.1,412.9 L164.6,412.1 L166.1,411.5 L167.6,410.8 L169.1,410.3 L170.6,409.9 L172.0,409.5 L173.5,409.3 L175.0,409.1 L176.5,409.1 L178.0,409.0 L179.5,409.0 L181.0,409.1 L182.5,409.1 L184.0,409.1 L185.5,409.1 L187.0,409.1 L188.5,409.0 L190.0,408.9 L191.5,408.8 L193.0,408.6 L194.5,408.5 L196.0,408.3 L197.5,408.1 L199.0,407.8 L200.5,407.6 L202.0,407.3 L203.5,407.0 L205.0,406.7 L206.5,406.4 L208.0,406.0 L209.5,405.6 L211.0,405.3 L212.5,404.8 L214.0,404.4 L215.5,404.0 L217.0,403.5 L218.5,403.1 L220.0,402.6 L221.5,402.1 L223.0,401.6 L224.5,401.0 L226.0,400.5 L227.5,399.9 L229.0,399.3 L230.5,398.7 L232.0,398.1 L233.5,397.5 L235.0,396.9 L236.5,396.2 L238.0,395.6 L239.5,394.9 L241.0,394.2 L242.5,393.5 L244.0,392.8 L245.5,392.0 L247.0,391.3 L248.5,390.5 L250.0,389.8 L251.5,389.0 L252.9,388.2 L254.4,387.4 L255.9,386.6 L257.4,385.7 L258.9,384.9 L260.4,384.0 L261.9,383.2 L263.4,382.3 L264.9,381.4 L266.4,380.6 L267.9,379.7 L269.4,378.8 L270.9,377.9 L272.4,377.0 L273.9,376.0 L275.4,375.1 L276.9,374.2 L278.4,373.3 L279.9,372.3 L281.4,371.4 L282.9,370.5 L284.4,369.6 L285.9,368.6 L287.4,367.7 L288.9,366.8 L290.4,365.9 L291.9,365.0 L293.4,364.0" fill="none" stroke="#ee2d2d" stroke-width="1.5" stroke-linecap="round" stroke-linejoin="round"/>
<text x="-0.20" y="289.45" font-family="Liberation Serif" font-size="14.93" fill="#111">C</text>
<text transform="translate(12.43,421.40) rotate(-90)" x="0" y="0" font-family="Liberation Sans" font-size="10.00" fill="#222">Hazard Ratio (95%CI)</text>
<text x="167.45" y="493.38" font-family="Liberation Sans" font-size="10.95" fill="#222">CTI</text>
<text x="240.96" y="286.88" font-family="Liberation Sans" font-size="6.77" fill="#222">P&lt;0.001</text>
<path d="M396.50,270.40 L396.50,470.30 L685.00,470.30" fill="none" stroke="#6a6a6a" stroke-width="1.1"/>
<line x1="393.00" y1="464.60" x2="396.50" y2="464.60" stroke="#6a6a6a" stroke-width="1"/>
<text x="378.65" y="467.71" font-family="Liberation Sans" font-size="9.00" fill="#222">0.0</text>
<line x1="393.00" y1="428.40" x2="396.50" y2="428.40" stroke="#6a6a6a" stroke-width="1"/>
<text x="378.65" y="431.51" font-family="Liberation Sans" font-size="9.00" fill="#222">2.0</text>
<line x1="393.00" y1="392.20" x2="396.50" y2="392.20" stroke="#6a6a6a" stroke-width="1"/>
<text x="378.65" y="395.31" font-family="Liberation Sans" font-size="9.00" fill="#222">4.0</text>
<line x1="393.00" y1="356.00" x2="396.50" y2="356.00" stroke="#6a6a6a" stroke-width="1"/>
<text x="378.65" y="359.11" font-family="Liberation Sans" font-size="9.00" fill="#222">6.0</text>
<line x1="393.00" y1="319.80" x2="396.50" y2="319.80" stroke="#6a6a6a" stroke-width="1"/>
<text x="378.65" y="322.91" font-family="Liberation Sans" font-size="9.00" fill="#222">8.0</text>
<line x1="393.00" y1="283.60" x2="396.50" y2="283.60" stroke="#6a6a6a" stroke-width="1"/>
<text x="373.66" y="286.71" font-family="Liberation Sans" font-size="9.00" fill="#222">10.0</text>
<line x1="411.50" y1="470.30" x2="411.50" y2="473.80" stroke="#6a6a6a" stroke-width="1"/>
<text x="409.00" y="484.41" font-family="Liberation Sans" font-size="9.00" fill="#222">5</text>
<line x1="449.65" y1="470.30" x2="449.65" y2="473.80" stroke="#6a6a6a" stroke-width="1"/>
<text x="447.13" y="484.46" font-family="Liberation Sans" font-size="9.00" fill="#222">6</text>
<line x1="487.80" y1="470.30" x2="487.80" y2="473.80" stroke="#6a6a6a" stroke-width="1"/>
<text x="485.30" y="484.46" font-family="Liberation Sans" font-size="9.00" fill="#222">7</text>
<line x1="525.95" y1="470.30" x2="525.95" y2="473.80" stroke="#6a6a6a" stroke-width="1"/>
<text x="523.43" y="484.46" font-family="Liberation Sans" font-size="9.00" fill="#222">8</text>
<line x1="564.10" y1="470.30" x2="564.10" y2="473.80" stroke="#6a6a6a" stroke-width="1"/>
<text x="561.60" y="484.46" font-family="Liberation Sans" font-size="9.00" fill="#222">9</text>
<line x1="602.25" y1="470.30" x2="602.25" y2="473.80" stroke="#6a6a6a" stroke-width="1"/>
<text x="597.10" y="484.46" font-family="Liberation Sans" font-size="9.00" fill="#222">10</text>
<line x1="640.40" y1="470.30" x2="640.40" y2="473.80" stroke="#6a6a6a" stroke-width="1"/>
<text x="635.63" y="484.46" font-family="Liberation Sans" font-size="9.00" fill="#222">11</text>
<line x1="678.55" y1="470.30" x2="678.55" y2="473.80" stroke="#6a6a6a" stroke-width="1"/>
<text x="673.44" y="484.50" font-family="Liberation Sans" font-size="9.00" fill="#222">12</text>
<line x1="397.00" y1="446.30" x2="685.00" y2="446.30" stroke="#6e6e6e" stroke-width="1.1" stroke-dasharray="2.2 1.7"/>
<path d="M401.9,459.7 L403.4,459.6 L404.9,459.5 L406.4,459.4 L407.9,459.3 L409.4,459.2 L410.9,459.1 L412.4,459.0 L413.9,458.9 L415.4,458.8 L416.9,458.7 L418.4,458.6 L419.8,458.5 L421.3,458.4 L422.8,458.3 L424.3,458.2 L425.8,458.1 L427.3,458.0 L428.8,457.9 L430.3,457.8 L431.8,457.7 L433.3,457.6 L434.8,457.5 L436.3,457.4 L437.8,457.3 L439.3,457.2 L440.8,457.1 L442.3,457.0 L443.8,456.9 L445.3,456.9 L446.8,456.8 L448.3,456.6 L449.8,456.5 L451.3,456.4 L452.7,456.3 L454.2,456.2 L455.7,456.1 L457.2,456.0 L458.7,455.9 L460.2,455.8 L461.7,455.7 L463.2,455.6 L464.7,455.5 L466.2,455.3 L467.7,455.2 L469.2,455.1 L470.7,455.0 L472.2,454.9 L473.7,454.7 L475.2,454.6 L476.7,454.5 L478.2,454.3 L479.7,454.2 L481.2,454.0 L482.7,453.9 L484.2,453.7 L485.6,453.6 L487.1,453.4 L488.6,453.2 L490.1,453.1 L491.6,452.9 L493.1,452.7 L494.6,452.5 L496.1,452.3 L497.6,452.1 L499.1,451.9 L500.6,451.7 L502.1,451.5 L503.6,451.3 L505.1,451.0 L506.6,450.8 L508.1,450.5 L509.6,450.2 L511.1,450.0 L512.6,449.7 L514.1,449.4 L515.6,449.1 L517.1,448.8 L518.5,448.4 L520.0,448.1 L521.5,447.7 L523.0,447.4 L524.5,447.0 L526.0,446.6 L527.5,446.2 L529.0,445.8 L530.5,445.4 L532.0,445.0 L533.5,444.5 L535.0,444.1 L536.5,443.6 L538.0,443.1 L539.5,442.6 L541.0,442.1 L542.5,441.6 L544.0,441.1 L545.5,440.5 L547.0,440.0 L548.5,439.4 L550.0,438.8 L551.5,438.2 L552.9,437.6 L554.4,437.0 L555.9,436.3 L557.4,435.7 L558.9,435.0 L560.4,434.4 L561.9,433.7 L563.4,433.0 L564.9,432.3 L566.4,431.6 L567.9,430.8 L569.4,430.1 L570.9,429.4 L572.4,428.6 L573.9,427.9 L575.4,427.1 L576.9,426.3 L578.4,425.5 L579.9,424.7 L581.4,424.0 L582.9,423.2 L584.4,422.3 L585.8,421.5 L587.3,420.7 L588.8,419.8 L590.3,419.0 L591.8,418.1 L593.3,417.2 L594.8,416.2 L596.3,415.3 L597.8,414.3 L599.3,413.3 L600.8,412.3 L602.3,411.2 L603.8,410.1 L605.3,408.9 L606.8,407.7 L608.3,406.5 L609.8,405.2 L611.3,403.8 L612.8,402.4 L614.3,400.9 L615.8,399.4 L617.3,397.8 L618.7,396.0 L620.2,394.2 L621.7,392.3 L623.2,390.3 L624.7,388.2 L626.2,386.0 L627.7,383.6 L629.2,381.1 L630.7,378.4 L632.2,375.6 L633.7,372.6 L635.2,369.5 L636.7,366.3 L638.2,362.9 L639.7,359.5 L641.2,356.0 L642.7,352.5 L644.2,348.8 L645.7,345.2 L647.2,341.6 L648.7,337.8 L650.2,334.0 L651.6,330.0 L653.1,325.9 L654.6,321.6 L656.1,317.1 L657.6,312.5 L659.1,307.8 L660.6,302.8 L662.1,297.7 L663.6,292.5 L665.1,287.1 L666.6,281.5 L668.1,275.7" fill="none" stroke="#74c274" stroke-width="1.3" stroke-dasharray="1.4 1.8"/>
<path d="M401.9,464.4 L403.4,464.4 L404.9,464.4 L406.4,464.4 L407.9,464.4 L409.4,464.3 L410.9,464.3 L412.4,464.3 L413.8,464.3 L415.3,464.2 L416.8,464.2 L418.3,464.2 L419.8,464.1 L421.3,464.1 L422.8,464.0 L424.3,464.0 L425.8,463.9 L427.3,463.9 L428.8,463.9 L430.3,463.8 L431.8,463.7 L433.3,463.7 L434.8,463.6 L436.2,463.6 L437.7,463.5 L439.2,463.5 L440.7,463.4 L442.2,463.3 L443.7,463.2 L445.2,463.2 L446.7,463.1 L448.2,463.0 L449.7,462.9 L451.2,462.9 L452.7,462.8 L454.2,462.7 L455.7,462.6 L457.2,462.5 L458.6,462.4 L460.1,462.3 L461.6,462.2 L463.1,462.1 L464.6,462.0 L466.1,461.9 L467.6,461.8 L469.1,461.7 L470.6,461.5 L472.1,461.4 L473.6,461.3 L475.1,461.1 L476.6,461.0 L478.1,460.8 L479.5,460.7 L481.0,460.5 L482.5,460.3 L484.0,460.1 L485.5,459.9 L487.0,459.7 L488.5,459.5 L490.0,459.3 L491.5,459.0 L493.0,458.8 L494.5,458.5 L496.0,458.2 L497.5,457.9 L499.0,457.6 L500.5,457.2 L501.9,456.9 L503.4,456.5 L504.9,456.1 L506.4,455.7 L507.9,455.2 L509.4,454.8 L510.9,454.3 L512.4,453.8 L513.9,453.3 L515.4,452.8 L516.9,452.3 L518.4,451.8 L519.9,451.3 L521.4,450.7 L522.9,450.2 L524.3,449.7 L525.8,449.2 L527.3,448.7 L528.8,448.2 L530.3,447.8 L531.8,447.4 L533.3,447.1 L534.8,446.8 L536.3,446.5 L537.8,446.4 L539.3,446.2 L540.8,446.1 L542.3,446.0 L543.8,445.9 L545.3,445.9 L546.7,445.9 L548.2,445.9 L549.7,445.9 L551.2,446.0 L552.7,446.0 L554.2,446.0 L555.7,446.0 L557.2,446.0 L558.7,446.0 L560.2,446.0 L561.7,446.0 L563.2,445.9 L564.7,445.8 L566.2,445.7 L567.7,445.5 L569.1,445.3 L570.6,445.0 L572.1,444.7 L573.6,444.4 L575.1,444.1 L576.6,443.7 L578.1,443.3 L579.6,442.9 L581.1,442.5 L582.6,442.0 L584.1,441.6 L585.6,441.2 L587.1,440.7 L588.6,440.3 L590.1,439.9 L591.5,439.4 L593.0,439.0 L594.5,438.6 L596.0,438.2 L597.5,437.8 L599.0,437.4 L600.5,437.0 L602.0,436.6 L603.5,436.2 L605.0,435.9 L606.5,435.5 L608.0,435.2 L609.5,434.9 L611.0,434.5 L612.4,434.2 L613.9,433.9 L615.4,433.6 L616.9,433.3 L618.4,433.1 L619.9,432.8 L621.4,432.5 L622.9,432.3 L624.4,432.0 L625.9,431.8 L627.4,431.6 L628.9,431.3 L630.4,431.1 L631.9,430.9 L633.4,430.7 L634.8,430.5 L636.3,430.3 L637.8,430.1 L639.3,429.9 L640.8,429.7 L642.3,429.5 L643.8,429.4 L645.3,429.2 L646.8,429.0 L648.3,428.8 L649.8,428.6 L651.3,428.4 L652.8,428.2 L654.3,428.1 L655.8,427.9 L657.2,427.7 L658.7,427.5 L660.2,427.3 L661.7,427.0 L663.2,426.8 L664.7,426.6 L666.2,426.4 L667.7,426.1" fill="none" stroke="#74c274" stroke-width="1.3" stroke-dasharray="1.4 1.8"/>
<path d="M401.9,463.2 L403.4,463.2 L404.9,463.2 L406.4,463.1 L407.9,463.1 L409.4,463.1 L410.9,463.0 L412.4,463.0 L413.9,462.9 L415.4,462.9 L416.9,462.9 L418.4,462.8 L419.8,462.8 L421.3,462.7 L422.8,462.7 L424.3,462.6 L425.8,462.5 L427.3,462.5 L428.8,462.4 L430.3,462.3 L431.8,462.3 L433.3,462.2 L434.8,462.1 L436.3,462.0 L437.8,462.0 L439.3,461.9 L440.8,461.8 L442.3,461.7 L443.8,461.6 L445.3,461.5 L446.8,461.4 L448.3,461.3 L449.8,461.2 L451.3,461.0 L452.7,460.9 L454.2,460.8 L455.7,460.7 L457.2,460.5 L458.7,460.4 L460.2,460.2 L461.7,460.1 L463.2,459.9 L464.7,459.8 L466.2,459.6 L467.7,459.4 L469.2,459.3 L470.7,459.1 L472.2,458.9 L473.7,458.7 L475.2,458.5 L476.7,458.3 L478.2,458.1 L479.7,457.9 L481.2,457.6 L482.7,457.4 L484.2,457.2 L485.6,456.9 L487.1,456.7 L488.6,456.4 L490.1,456.2 L491.6,455.9 L493.1,455.6 L494.6,455.4 L496.1,455.1 L497.6,454.8 L499.1,454.5 L500.6,454.2 L502.1,453.9 L503.6,453.6 L505.1,453.3 L506.6,453.0 L508.1,452.7 L509.6,452.4 L511.1,452.0 L512.6,451.7 L514.1,451.4 L515.6,451.1 L517.1,450.7 L518.5,450.4 L520.0,450.1 L521.5,449.7 L523.0,449.4 L524.5,449.0 L526.0,448.7 L527.5,448.4 L529.0,448.0 L530.5,447.7 L532.0,447.3 L533.5,447.0 L535.0,446.6 L536.5,446.3 L538.0,445.9 L539.5,445.6 L541.0,445.3 L542.5,444.9 L544.0,444.6 L545.5,444.2 L547.0,443.9 L548.5,443.5 L550.0,443.2 L551.5,442.9 L552.9,442.5 L554.4,442.2 L555.9,441.8 L557.4,441.5 L558.9,441.1 L560.4,440.8 L561.9,440.4 L563.4,440.0 L564.9,439.7 L566.4,439.3 L567.9,438.9 L569.4,438.5 L570.9,438.1 L572.4,437.6 L573.9,437.2 L575.4,436.7 L576.9,436.3 L578.4,435.8 L579.9,435.3 L581.4,434.8 L582.9,434.2 L584.4,433.7 L585.8,433.2 L587.3,432.6 L588.8,432.0 L590.3,431.4 L591.8,430.8 L593.3,430.2 L594.8,429.6 L596.3,428.9 L597.8,428.2 L599.3,427.5 L600.8,426.9 L602.3,426.1 L603.8,425.4 L605.3,424.7 L606.8,423.9 L608.3,423.2 L609.8,422.4 L611.3,421.6 L612.8,420.8 L614.3,419.9 L615.8,419.1 L617.3,418.2 L618.7,417.4 L620.2,416.5 L621.7,415.6 L623.2,414.7 L624.7,413.8 L626.2,412.9 L627.7,411.9 L629.2,411.0 L630.7,410.0 L632.2,409.1 L633.7,408.1 L635.2,407.1 L636.7,406.1 L638.2,405.1 L639.7,404.0 L641.2,403.0 L642.7,401.9 L644.2,400.8 L645.7,399.7 L647.2,398.6 L648.7,397.5 L650.2,396.3 L651.6,395.1 L653.1,393.9 L654.6,392.7 L656.1,391.4 L657.6,390.1 L659.1,388.7 L660.6,387.4 L662.1,386.0 L663.6,384.5 L665.1,383.0 L666.6,381.5 L668.1,379.9" fill="none" stroke="#228b22" stroke-width="1.5" stroke-linecap="round" stroke-linejoin="round"/>
<text x="347.75" y="281.80" font-family="Liberation Serif" font-size="14.66" fill="#111">D</text>
<text transform="translate(356.95,420.71) rotate(-90)" x="0" y="0" font-family="Liberation Sans" font-size="11.26" fill="#222">Odds Ratio (95%CI)</text>
<text x="531.21" y="504.26" font-family="Liberation Sans" font-size="11.77" fill="#222">CTI</text>
<text x="603.89" y="276.03" font-family="Liberation Sans" font-size="7.62" fill="#222">P&lt;0.001</text>
<text x="475.64" y="278.53" font-family="Liberation Sans" font-size="9.24" fill="#222">Congestive heart failure</text>
<path d="M46.50,535.90 L46.50,727.20 L326.90,727.20" fill="none" stroke="#6a6a6a" stroke-width="1.1"/>
<line x1="43.00" y1="721.50" x2="46.50" y2="721.50" stroke="#6a6a6a" stroke-width="1"/>
<text x="28.65" y="724.61" font-family="Liberation Sans" font-size="9.00" fill="#222">0.0</text>
<line x1="43.00" y1="691.55" x2="46.50" y2="691.55" stroke="#6a6a6a" stroke-width="1"/>
<text x="28.65" y="694.65" font-family="Liberation Sans" font-size="9.00" fill="#222">1.0</text>
<line x1="43.00" y1="661.60" x2="46.50" y2="661.60" stroke="#6a6a6a" stroke-width="1"/>
<text x="28.65" y="664.71" font-family="Liberation Sans" font-size="9.00" fill="#222">2.0</text>
<line x1="43.00" y1="631.65" x2="46.50" y2="631.65" stroke="#6a6a6a" stroke-width="1"/>
<text x="28.65" y="634.75" font-family="Liberation Sans" font-size="9.00" fill="#222">3.0</text>
<line x1="43.00" y1="601.70" x2="46.50" y2="601.70" stroke="#6a6a6a" stroke-width="1"/>
<text x="28.65" y="604.81" font-family="Liberation Sans" font-size="9.00" fill="#222">4.0</text>
<line x1="43.00" y1="571.75" x2="46.50" y2="571.75" stroke="#6a6a6a" stroke-width="1"/>
<text x="28.65" y="574.86" font-family="Liberation Sans" font-size="9.00" fill="#222">5.0</text>
<line x1="43.00" y1="541.80" x2="46.50" y2="541.80" stroke="#6a6a6a" stroke-width="1"/>
<text x="28.65" y="544.90" font-family="Liberation Sans" font-size="9.00" fill="#222">6.0</text>
<line x1="61.50" y1="727.20" x2="61.50" y2="730.70" stroke="#6a6a6a" stroke-width="1"/>
<text x="59.00" y="740.86" font-family="Liberation Sans" font-size="9.00" fill="#222">5</text>
<line x1="98.65" y1="727.20" x2="98.65" y2="730.70" stroke="#6a6a6a" stroke-width="1"/>
<text x="96.13" y="740.90" font-family="Liberation Sans" font-size="9.00" fill="#222">6</text>
<line x1="135.80" y1="727.20" x2="135.80" y2="730.70" stroke="#6a6a6a" stroke-width="1"/>
<text x="133.30" y="740.90" font-family="Liberation Sans" font-size="9.00" fill="#222">7</text>
<line x1="172.95" y1="727.20" x2="172.95" y2="730.70" stroke="#6a6a6a" stroke-width="1"/>
<text x="170.43" y="740.90" font-family="Liberation Sans" font-size="9.00" fill="#222">8</text>
<line x1="210.10" y1="727.20" x2="210.10" y2="730.70" stroke="#6a6a6a" stroke-width="1"/>
<text x="207.60" y="740.90" font-family="Liberation Sans" font-size="9.00" fill="#222">9</text>
<line x1="247.25" y1="727.20" x2="247.25" y2="730.70" stroke="#6a6a6a" stroke-width="1"/>
<text x="242.10" y="740.90" font-family="Liberation Sans" font-size="9.00" fill="#222">10</text>
<line x1="284.40" y1="727.20" x2="284.40" y2="730.70" stroke="#6a6a6a" stroke-width="1"/>
<text x="279.63" y="740.90" font-family="Liberation Sans" font-size="9.00" fill="#222">11</text>
<line x1="321.55" y1="727.20" x2="321.55" y2="730.70" stroke="#6a6a6a" stroke-width="1"/>
<text x="316.44" y="740.95" font-family="Liberation Sans" font-size="9.00" fill="#222">12</text>
<line x1="47.00" y1="691.30" x2="327.40" y2="691.30" stroke="#6e6e6e" stroke-width="1.1" stroke-dasharray="2.2 1.7"/>
<path d="M52.4,716.8 L53.9,716.8 L55.4,716.7 L56.9,716.6 L58.4,716.6 L59.9,716.5 L61.4,716.4 L62.9,716.3 L64.4,716.2 L65.9,716.2 L67.4,716.1 L68.9,716.0 L70.4,715.8 L71.9,715.7 L73.4,715.6 L74.9,715.5 L76.4,715.4 L77.9,715.2 L79.4,715.1 L80.9,715.0 L82.4,714.8 L83.9,714.6 L85.4,714.5 L86.9,714.3 L88.4,714.1 L89.9,714.0 L91.4,713.8 L92.9,713.6 L94.4,713.4 L95.9,713.2 L97.4,712.9 L98.9,712.7 L100.4,712.5 L101.9,712.2 L103.4,712.0 L104.9,711.7 L106.4,711.5 L107.9,711.2 L109.4,710.9 L110.9,710.6 L112.4,710.3 L113.9,710.0 L115.4,709.7 L116.9,709.4 L118.4,709.0 L119.9,708.7 L121.4,708.3 L122.9,707.9 L124.4,707.6 L125.9,707.2 L127.4,706.8 L128.9,706.4 L130.4,706.0 L131.9,705.6 L133.4,705.1 L134.9,704.7 L136.4,704.3 L137.9,703.8 L139.4,703.4 L140.9,702.9 L142.4,702.4 L143.9,701.9 L145.4,701.5 L146.9,701.0 L148.4,700.5 L149.9,700.0 L151.4,699.5 L152.9,699.0 L154.4,698.5 L155.9,698.0 L157.4,697.5 L158.9,696.9 L160.4,696.4 L161.9,695.9 L163.4,695.4 L164.9,695.0 L166.4,694.5 L167.9,694.0 L169.4,693.5 L170.9,693.1 L172.4,692.6 L173.9,692.2 L175.4,691.8 L176.9,691.4 L178.4,691.0 L179.9,690.7 L181.4,690.4 L182.8,690.1 L184.3,689.8 L185.8,689.5 L187.3,689.3 L188.8,689.1 L190.3,688.8 L191.8,688.7 L193.3,688.5 L194.8,688.3 L196.3,688.2 L197.8,688.0 L199.3,687.9 L200.8,687.8 L202.3,687.6 L203.8,687.5 L205.3,687.4 L206.8,687.3 L208.3,687.2 L209.8,687.0 L211.3,686.9 L212.8,686.8 L214.3,686.6 L215.8,686.4 L217.3,686.3 L218.8,686.0 L220.3,685.8 L221.8,685.5 L223.3,685.2 L224.8,684.8 L226.3,684.4 L227.8,683.9 L229.3,683.3 L230.8,682.7 L232.3,682.0 L233.8,681.2 L235.3,680.3 L236.8,679.3 L238.3,678.3 L239.8,677.3 L241.3,676.2 L242.8,675.1 L244.3,674.0 L245.8,672.9 L247.3,671.9 L248.8,670.9 L250.3,669.9 L251.8,668.9 L253.3,667.9 L254.8,666.8 L256.3,665.5 L257.8,664.1 L259.3,662.5 L260.8,660.8 L262.3,659.1 L263.8,657.2 L265.3,655.3 L266.8,653.3 L268.3,651.3 L269.8,649.3 L271.3,647.3 L272.8,645.2 L274.3,643.0 L275.8,640.7 L277.3,638.3 L278.8,635.8 L280.3,633.2 L281.8,630.5 L283.3,627.7 L284.8,624.8 L286.3,621.8 L287.8,618.7 L289.3,615.5 L290.8,612.2 L292.3,608.8 L293.8,605.3 L295.3,601.7 L296.8,597.9 L298.3,594.0 L299.8,589.9 L301.3,585.6 L302.8,581.2 L304.3,576.7 L305.8,572.2 L307.3,567.8 L308.8,563.6 L310.3,559.6" fill="none" stroke="#74c274" stroke-width="1.3" stroke-dasharray="1.4 1.8"/>
<path d="M52.4,720.7 L53.9,720.7 L55.4,720.7 L56.9,720.8 L58.4,720.8 L59.9,720.8 L61.3,720.8 L62.8,720.8 L64.3,720.8 L65.8,720.8 L67.3,720.8 L68.8,720.8 L70.3,720.8 L71.8,720.8 L73.3,720.8 L74.8,720.8 L76.3,720.8 L77.8,720.8 L79.2,720.8 L80.7,720.8 L82.2,720.7 L83.7,720.7 L85.2,720.7 L86.7,720.6 L88.2,720.6 L89.7,720.6 L91.2,720.5 L92.7,720.5 L94.2,720.4 L95.6,720.3 L97.1,720.3 L98.6,720.2 L100.1,720.1 L101.6,720.0 L103.1,719.9 L104.6,719.8 L106.1,719.7 L107.6,719.6 L109.1,719.5 L110.6,719.3 L112.1,719.1 L113.5,719.0 L115.0,718.8 L116.5,718.6 L118.0,718.3 L119.5,718.1 L121.0,717.8 L122.5,717.5 L124.0,717.2 L125.5,716.9 L127.0,716.5 L128.5,716.1 L129.9,715.7 L131.4,715.3 L132.9,714.8 L134.4,714.3 L135.9,713.7 L137.4,713.2 L138.9,712.5 L140.4,711.9 L141.9,711.2 L143.4,710.5 L144.9,709.7 L146.4,708.9 L147.8,708.1 L149.3,707.2 L150.8,706.4 L152.3,705.5 L153.8,704.5 L155.3,703.6 L156.8,702.6 L158.3,701.6 L159.8,700.7 L161.3,699.7 L162.8,698.8 L164.2,697.9 L165.7,697.0 L167.2,696.2 L168.7,695.4 L170.2,694.7 L171.7,694.1 L173.2,693.6 L174.7,693.1 L176.2,692.8 L177.7,692.7 L179.2,692.6 L180.7,692.7 L182.1,693.0 L183.6,693.3 L185.1,693.8 L186.6,694.4 L188.1,695.0 L189.6,695.6 L191.1,696.3 L192.6,696.9 L194.1,697.6 L195.6,698.2 L197.1,698.8 L198.6,699.3 L200.0,699.8 L201.5,700.2 L203.0,700.6 L204.5,700.8 L206.0,701.0 L207.5,701.2 L209.0,701.3 L210.5,701.3 L212.0,701.4 L213.5,701.3 L215.0,701.3 L216.4,701.2 L217.9,701.1 L219.4,701.0 L220.9,700.8 L222.4,700.7 L223.9,700.5 L225.4,700.3 L226.9,700.1 L228.4,699.9 L229.9,699.7 L231.4,699.4 L232.9,699.2 L234.3,698.9 L235.8,698.7 L237.3,698.4 L238.8,698.1 L240.3,697.9 L241.8,697.6 L243.3,697.3 L244.8,697.0 L246.3,696.8 L247.8,696.5 L249.3,696.2 L250.7,695.9 L252.2,695.7 L253.7,695.4 L255.2,695.2 L256.7,695.0 L258.2,694.7 L259.7,694.5 L261.2,694.3 L262.7,694.1 L264.2,693.9 L265.7,693.7 L267.2,693.5 L268.6,693.3 L270.1,693.2 L271.6,693.0 L273.1,692.8 L274.6,692.7 L276.1,692.5 L277.6,692.4 L279.1,692.2 L280.6,692.1 L282.1,692.0 L283.6,691.8 L285.0,691.7 L286.5,691.6 L288.0,691.4 L289.5,691.3 L291.0,691.2 L292.5,691.1 L294.0,691.0 L295.5,690.8 L297.0,690.7 L298.5,690.6 L300.0,690.5 L301.5,690.4 L302.9,690.2 L304.4,690.1 L305.9,690.0 L307.4,689.8 L308.9,689.7 L310.4,689.6" fill="none" stroke="#74c274" stroke-width="1.3" stroke-dasharray="1.4 1.8"/>
<path d="M52.4,719.9 L53.9,719.9 L55.4,719.8 L56.9,719.8 L58.4,719.8 L59.9,719.8 L61.4,719.8 L62.8,719.8 L64.3,719.8 L65.8,719.7 L67.3,719.7 L68.8,719.7 L70.3,719.6 L71.8,719.6 L73.3,719.5 L74.8,719.5 L76.3,719.4 L77.8,719.4 L79.3,719.3 L80.7,719.3 L82.2,719.2 L83.7,719.1 L85.2,719.0 L86.7,718.9 L88.2,718.8 L89.7,718.7 L91.2,718.6 L92.7,718.5 L94.2,718.4 L95.7,718.3 L97.2,718.1 L98.6,718.0 L100.1,717.8 L101.6,717.7 L103.1,717.5 L104.6,717.3 L106.1,717.1 L107.6,716.9 L109.1,716.7 L110.6,716.5 L112.1,716.2 L113.6,716.0 L115.1,715.7 L116.6,715.4 L118.0,715.1 L119.5,714.8 L121.0,714.5 L122.5,714.1 L124.0,713.8 L125.5,713.4 L127.0,713.0 L128.5,712.6 L130.0,712.1 L131.5,711.6 L133.0,711.2 L134.5,710.7 L135.9,710.1 L137.4,709.6 L138.9,709.0 L140.4,708.4 L141.9,707.8 L143.4,707.2 L144.9,706.5 L146.4,705.8 L147.9,705.2 L149.4,704.4 L150.9,703.7 L152.4,703.0 L153.8,702.2 L155.3,701.4 L156.8,700.6 L158.3,699.8 L159.8,699.1 L161.3,698.3 L162.8,697.5 L164.3,696.8 L165.8,696.0 L167.3,695.3 L168.8,694.6 L170.3,694.0 L171.8,693.4 L173.2,692.9 L174.7,692.4 L176.2,692.0 L177.7,691.6 L179.2,691.4 L180.7,691.2 L182.2,691.1 L183.7,691.1 L185.2,691.2 L186.7,691.3 L188.2,691.5 L189.7,691.7 L191.1,692.0 L192.6,692.3 L194.1,692.6 L195.6,692.9 L197.1,693.3 L198.6,693.6 L200.1,693.9 L201.6,694.2 L203.1,694.5 L204.6,694.8 L206.1,695.0 L207.6,695.1 L209.1,695.3 L210.5,695.4 L212.0,695.4 L213.5,695.3 L215.0,695.2 L216.5,695.1 L218.0,694.9 L219.5,694.6 L221.0,694.3 L222.5,694.0 L224.0,693.6 L225.5,693.2 L227.0,692.8 L228.4,692.3 L229.9,691.8 L231.4,691.4 L232.9,690.9 L234.4,690.3 L235.9,689.8 L237.4,689.3 L238.9,688.8 L240.4,688.2 L241.9,687.6 L243.4,687.1 L244.9,686.5 L246.3,685.9 L247.8,685.3 L249.3,684.7 L250.8,684.1 L252.3,683.4 L253.8,682.8 L255.3,682.1 L256.8,681.4 L258.3,680.8 L259.8,680.1 L261.3,679.4 L262.8,678.6 L264.3,677.9 L265.7,677.2 L267.2,676.4 L268.7,675.7 L270.2,674.9 L271.7,674.1 L273.2,673.3 L274.7,672.5 L276.2,671.7 L277.7,670.8 L279.2,670.0 L280.7,669.1 L282.2,668.3 L283.6,667.4 L285.1,666.5 L286.6,665.6 L288.1,664.7 L289.6,663.7 L291.1,662.8 L292.6,661.8 L294.1,660.9 L295.6,659.9 L297.1,658.9 L298.6,657.9 L300.1,656.9 L301.5,655.9 L303.0,654.8 L304.5,653.8 L306.0,652.7 L307.5,651.7 L309.0,650.6 L310.5,649.5" fill="none" stroke="#228b22" stroke-width="1.5" stroke-linecap="round" stroke-linejoin="round"/>
<text x="10.19" y="544.60" font-family="Liberation Serif" font-size="16.49" fill="#111">E</text>
<text transform="translate(14.47,679.58) rotate(-90)" x="0" y="0" font-family="Liberation Sans" font-size="10.77" fill="#222">Odds Ratio (95%CI)</text>
<text x="178.04" y="759.50" font-family="Liberation Sans" font-size="11.16" fill="#222">CTI</text>
<text x="263.41" y="544.55" font-family="Liberation Sans" font-size="7.40" fill="#222">P&lt;0.001</text>
<text x="126.46" y="541.72" font-family="Liberation Sans" font-size="8.81" fill="#222">Coronary heart disease</text>
<line x1="396.90" y1="534.40" x2="396.90" y2="726.40" stroke="#9a9a9a" stroke-width="1.4"/>
<line x1="396.20" y1="726.40" x2="678.70" y2="726.40" stroke="#7a7a7a" stroke-width="1.1"/>
<line x1="393.40" y1="721.10" x2="396.90" y2="721.10" stroke="#6a6a6a" stroke-width="1"/>
<text x="379.05" y="724.21" font-family="Liberation Sans" font-size="9.00" fill="#222">0.0</text>
<line x1="393.40" y1="675.70" x2="396.90" y2="675.70" stroke="#6a6a6a" stroke-width="1"/>
<text x="379.05" y="678.81" font-family="Liberation Sans" font-size="9.00" fill="#222">1.0</text>
<line x1="393.40" y1="630.30" x2="396.90" y2="630.30" stroke="#6a6a6a" stroke-width="1"/>
<text x="379.05" y="633.41" font-family="Liberation Sans" font-size="9.00" fill="#222">2.0</text>
<line x1="393.40" y1="584.90" x2="396.90" y2="584.90" stroke="#6a6a6a" stroke-width="1"/>
<text x="379.05" y="588.01" font-family="Liberation Sans" font-size="9.00" fill="#222">3.0</text>
<line x1="393.40" y1="539.50" x2="396.90" y2="539.50" stroke="#6a6a6a" stroke-width="1"/>
<text x="379.05" y="542.61" font-family="Liberation Sans" font-size="9.00" fill="#222">4.0</text>
<line x1="411.50" y1="726.40" x2="411.50" y2="729.90" stroke="#6a6a6a" stroke-width="1"/>
<text x="409.00" y="740.26" font-family="Liberation Sans" font-size="9.00" fill="#222">5</text>
<line x1="449.00" y1="726.40" x2="449.00" y2="729.90" stroke="#6a6a6a" stroke-width="1"/>
<text x="446.48" y="740.31" font-family="Liberation Sans" font-size="9.00" fill="#222">6</text>
<line x1="486.50" y1="726.40" x2="486.50" y2="729.90" stroke="#6a6a6a" stroke-width="1"/>
<text x="484.00" y="740.31" font-family="Liberation Sans" font-size="9.00" fill="#222">7</text>
<line x1="524.00" y1="726.40" x2="524.00" y2="729.90" stroke="#6a6a6a" stroke-width="1"/>
<text x="521.48" y="740.31" font-family="Liberation Sans" font-size="9.00" fill="#222">8</text>
<line x1="561.50" y1="726.40" x2="561.50" y2="729.90" stroke="#6a6a6a" stroke-width="1"/>
<text x="559.00" y="740.31" font-family="Liberation Sans" font-size="9.00" fill="#222">9</text>
<line x1="599.00" y1="726.40" x2="599.00" y2="729.90" stroke="#6a6a6a" stroke-width="1"/>
<text x="593.85" y="740.31" font-family="Liberation Sans" font-size="9.00" fill="#222">10</text>
<line x1="636.50" y1="726.40" x2="636.50" y2="729.90" stroke="#6a6a6a" stroke-width="1"/>
<text x="631.73" y="740.31" font-family="Liberation Sans" font-size="9.00" fill="#222">11</text>
<line x1="674.00" y1="726.40" x2="674.00" y2="729.90" stroke="#6a6a6a" stroke-width="1"/>
<text x="668.89" y="740.35" font-family="Liberation Sans" font-size="9.00" fill="#222">12</text>
<line x1="397.40" y1="675.60" x2="679.30" y2="675.60" stroke="#a0a0a0" stroke-width="1.5" stroke-dasharray="2 1.8"/>
<path d="M402.5,718.7 L404.0,718.6 L405.5,718.5 L407.0,718.4 L408.5,718.4 L410.0,718.3 L411.5,718.2 L413.0,718.1 L414.4,718.0 L415.9,717.8 L417.4,717.7 L418.9,717.6 L420.4,717.5 L421.9,717.4 L423.4,717.2 L424.9,717.1 L426.4,716.9 L427.9,716.8 L429.4,716.6 L430.9,716.4 L432.4,716.3 L433.9,716.1 L435.3,715.9 L436.8,715.7 L438.3,715.5 L439.8,715.3 L441.3,715.1 L442.8,714.8 L444.3,714.6 L445.8,714.4 L447.3,714.1 L448.8,713.8 L450.3,713.6 L451.8,713.3 L453.3,713.0 L454.8,712.7 L456.3,712.3 L457.7,712.0 L459.2,711.7 L460.7,711.3 L462.2,710.9 L463.7,710.5 L465.2,710.1 L466.7,709.7 L468.2,709.3 L469.7,708.8 L471.2,708.4 L472.7,707.9 L474.2,707.4 L475.7,706.9 L477.2,706.4 L478.6,705.8 L480.1,705.2 L481.6,704.7 L483.1,704.1 L484.6,703.4 L486.1,702.8 L487.6,702.1 L489.1,701.5 L490.6,700.8 L492.1,700.0 L493.6,699.3 L495.1,698.5 L496.6,697.7 L498.1,696.9 L499.6,696.1 L501.0,695.3 L502.5,694.4 L504.0,693.5 L505.5,692.6 L507.0,691.6 L508.5,690.7 L510.0,689.7 L511.5,688.7 L513.0,687.7 L514.5,686.6 L516.0,685.5 L517.5,684.4 L519.0,683.3 L520.5,682.1 L521.9,680.9 L523.4,679.6 L524.9,678.4 L526.4,677.0 L527.9,675.6 L529.4,674.2 L530.9,672.7 L532.4,671.2 L533.9,669.5 L535.4,667.9 L536.9,666.1 L538.4,664.2 L539.9,662.3 L541.4,660.3 L542.9,658.1 L544.3,655.9 L545.8,653.5 L547.3,651.0 L548.8,648.5 L550.3,645.9 L551.8,643.4 L553.3,640.9 L554.8,638.7 L556.3,636.6 L557.8,634.8 L559.3,633.4 L560.8,632.1 L562.3,631.1 L563.8,630.3 L565.2,629.6 L566.7,629.1 L568.2,628.7 L569.7,628.3 L571.2,628.1 L572.7,628.0 L574.2,627.9 L575.7,627.8 L577.2,627.8 L578.7,627.9 L580.2,627.9 L581.7,628.0 L583.2,628.0 L584.7,628.0 L586.2,628.0 L587.6,627.9 L589.1,627.7 L590.6,627.5 L592.1,627.1 L593.6,626.7 L595.1,626.2 L596.6,625.5 L598.1,624.7 L599.6,623.9 L601.1,622.9 L602.6,621.9 L604.1,620.8 L605.6,619.7 L607.1,618.5 L608.5,617.2 L610.0,615.9 L611.5,614.6 L613.0,613.3 L614.5,611.9 L616.0,610.5 L617.5,609.0 L619.0,607.6 L620.5,606.1 L622.0,604.5 L623.5,603.0 L625.0,601.4 L626.5,599.7 L628.0,598.0 L629.5,596.3 L630.9,594.5 L632.4,592.7 L633.9,590.9 L635.4,589.0 L636.9,587.0 L638.4,585.0 L639.9,582.9 L641.4,580.8 L642.9,578.7 L644.4,576.4 L645.9,574.1 L647.4,571.8 L648.9,569.4 L650.4,566.9 L651.8,564.3 L653.3,561.7 L654.8,559.0 L656.3,556.2 L657.8,553.3 L659.3,550.4 L660.8,547.3 L662.3,544.2" fill="none" stroke="#74c274" stroke-width="1.3" stroke-dasharray="1.4 1.8"/>
<path d="M402.5,691.1 L404.0,691.0 L405.5,690.9 L407.0,690.7 L408.5,690.6 L410.0,690.5 L411.5,690.3 L412.9,690.2 L414.4,690.1 L415.9,690.0 L417.4,689.8 L418.9,689.7 L420.4,689.6 L421.9,689.5 L423.4,689.3 L424.9,689.2 L426.4,689.1 L427.9,689.0 L429.4,688.8 L430.8,688.7 L432.3,688.6 L433.8,688.5 L435.3,688.3 L436.8,688.2 L438.3,688.1 L439.8,688.0 L441.3,687.8 L442.8,687.7 L444.3,687.6 L445.8,687.4 L447.3,687.3 L448.8,687.2 L450.2,687.1 L451.7,686.9 L453.2,686.8 L454.7,686.7 L456.2,686.5 L457.7,686.4 L459.2,686.2 L460.7,686.1 L462.2,686.0 L463.7,685.8 L465.2,685.7 L466.7,685.5 L468.1,685.4 L469.6,685.2 L471.1,685.1 L472.6,684.9 L474.1,684.8 L475.6,684.6 L477.1,684.4 L478.6,684.3 L480.1,684.1 L481.6,684.0 L483.1,683.8 L484.6,683.6 L486.0,683.4 L487.5,683.3 L489.0,683.1 L490.5,682.9 L492.0,682.7 L493.5,682.5 L495.0,682.3 L496.5,682.1 L498.0,681.9 L499.5,681.7 L501.0,681.4 L502.5,681.2 L504.0,681.0 L505.4,680.7 L506.9,680.5 L508.4,680.2 L509.9,680.0 L511.4,679.7 L512.9,679.4 L514.4,679.1 L515.9,678.8 L517.4,678.5 L518.9,678.3 L520.4,678.0 L521.9,677.7 L523.3,677.4 L524.8,677.1 L526.3,676.8 L527.8,676.5 L529.3,676.3 L530.8,676.0 L532.3,675.7 L533.8,675.5 L535.3,675.3 L536.8,675.1 L538.3,674.9 L539.8,674.7 L541.3,674.5 L542.7,674.4 L544.2,674.2 L545.7,674.1 L547.2,674.0 L548.7,673.9 L550.2,673.8 L551.7,673.7 L553.2,673.6 L554.7,673.5 L556.2,673.4 L557.7,673.4 L559.2,673.3 L560.6,673.3 L562.1,673.3 L563.6,673.2 L565.1,673.2 L566.6,673.2 L568.1,673.2 L569.6,673.2 L571.1,673.2 L572.6,673.3 L574.1,673.3 L575.6,673.4 L577.1,673.6 L578.6,673.7 L580.0,673.9 L581.5,674.1 L583.0,674.3 L584.5,674.5 L586.0,674.8 L587.5,675.1 L589.0,675.4 L590.5,675.7 L592.0,676.1 L593.5,676.5 L595.0,676.9 L596.5,677.3 L597.9,677.8 L599.4,678.3 L600.9,678.8 L602.4,679.3 L603.9,679.8 L605.4,680.4 L606.9,680.9 L608.4,681.5 L609.9,682.1 L611.4,682.7 L612.9,683.3 L614.4,683.9 L615.8,684.5 L617.3,685.1 L618.8,685.8 L620.3,686.4 L621.8,687.0 L623.3,687.7 L624.8,688.3 L626.3,688.9 L627.8,689.5 L629.3,690.2 L630.8,690.8 L632.3,691.4 L633.8,692.0 L635.2,692.6 L636.7,693.2 L638.2,693.8 L639.7,694.3 L641.2,694.9 L642.7,695.5 L644.2,696.0 L645.7,696.6 L647.2,697.1 L648.7,697.6 L650.2,698.1 L651.7,698.7 L653.1,699.1 L654.6,699.6 L656.1,700.1 L657.6,700.6 L659.1,701.0 L660.6,701.5 L662.1,701.9" fill="none" stroke="#74c274" stroke-width="1.3" stroke-dasharray="1.4 1.8"/>
<path d="M402.5,712.9 L404.0,712.6 L405.5,712.4 L407.0,712.2 L408.5,712.0 L410.0,711.8 L411.5,711.5 L412.9,711.3 L414.4,711.1 L415.9,710.9 L417.4,710.6 L418.9,710.4 L420.4,710.2 L421.9,709.9 L423.4,709.7 L424.9,709.5 L426.4,709.2 L427.9,709.0 L429.4,708.7 L430.8,708.5 L432.3,708.2 L433.8,708.0 L435.3,707.7 L436.8,707.5 L438.3,707.2 L439.8,707.0 L441.3,706.7 L442.8,706.4 L444.3,706.2 L445.8,705.9 L447.3,705.6 L448.8,705.4 L450.2,705.1 L451.7,704.8 L453.2,704.5 L454.7,704.2 L456.2,703.9 L457.7,703.6 L459.2,703.3 L460.7,703.0 L462.2,702.7 L463.7,702.4 L465.2,702.0 L466.7,701.7 L468.1,701.4 L469.6,701.0 L471.1,700.6 L472.6,700.3 L474.1,699.9 L475.6,699.5 L477.1,699.1 L478.6,698.7 L480.1,698.3 L481.6,697.8 L483.1,697.4 L484.6,696.9 L486.0,696.4 L487.5,696.0 L489.0,695.4 L490.5,694.9 L492.0,694.4 L493.5,693.8 L495.0,693.3 L496.5,692.7 L498.0,692.1 L499.5,691.5 L501.0,690.8 L502.5,690.2 L504.0,689.5 L505.4,688.8 L506.9,688.1 L508.4,687.4 L509.9,686.6 L511.4,685.8 L512.9,685.1 L514.4,684.2 L515.9,683.4 L517.4,682.6 L518.9,681.7 L520.4,680.8 L521.9,679.9 L523.3,679.0 L524.8,678.0 L526.3,677.1 L527.8,676.1 L529.3,675.1 L530.8,674.1 L532.3,673.1 L533.8,672.1 L535.3,671.1 L536.8,670.0 L538.3,669.0 L539.8,668.0 L541.3,667.0 L542.7,666.0 L544.2,665.1 L545.7,664.1 L547.2,663.2 L548.7,662.3 L550.2,661.5 L551.7,660.7 L553.2,659.9 L554.7,659.1 L556.2,658.5 L557.7,657.8 L559.2,657.2 L560.6,656.7 L562.1,656.2 L563.6,655.8 L565.1,655.4 L566.6,655.1 L568.1,654.9 L569.6,654.7 L571.1,654.6 L572.6,654.5 L574.1,654.5 L575.6,654.5 L577.1,654.5 L578.6,654.6 L580.0,654.7 L581.5,654.8 L583.0,654.9 L584.5,655.1 L586.0,655.2 L587.5,655.3 L589.0,655.5 L590.5,655.6 L592.0,655.8 L593.5,655.9 L595.0,656.1 L596.5,656.2 L597.9,656.4 L599.4,656.6 L600.9,656.7 L602.4,656.9 L603.9,657.1 L605.4,657.2 L606.9,657.4 L608.4,657.5 L609.9,657.7 L611.4,657.9 L612.9,658.0 L614.4,658.2 L615.8,658.4 L617.3,658.6 L618.8,658.7 L620.3,658.9 L621.8,659.1 L623.3,659.2 L624.8,659.4 L626.3,659.6 L627.8,659.7 L629.3,659.9 L630.8,660.1 L632.3,660.2 L633.8,660.4 L635.2,660.6 L636.7,660.7 L638.2,660.9 L639.7,661.1 L641.2,661.2 L642.7,661.4 L644.2,661.5 L645.7,661.7 L647.2,661.9 L648.7,662.0 L650.2,662.2 L651.7,662.3 L653.1,662.5 L654.6,662.6 L656.1,662.8 L657.6,662.9 L659.1,663.0 L660.6,663.2 L662.1,663.3" fill="none" stroke="#228b22" stroke-width="1.5" stroke-linecap="round" stroke-linejoin="round"/>
<text x="360.76" y="539.80" font-family="Liberation Serif" font-size="17.40" fill="#111">F</text>
<text transform="translate(364.17,678.38) rotate(-90)" x="0" y="0" font-family="Liberation Sans" font-size="10.77" fill="#222">Odds Ratio (95%CI)</text>
<text x="529.04" y="759.20" font-family="Liberation Sans" font-size="11.29" fill="#222">CTI</text>
<text x="604.42" y="538.10" font-family="Liberation Sans" font-size="7.24" fill="#222">P&lt;0.001</text>
<text x="499.16" y="538.99" font-family="Liberation Sans" font-size="8.88" fill="#222">Angina pectoris</text>
<line x1="43.00" y1="788.10" x2="43.00" y2="990.30" stroke="#9a9a9a" stroke-width="1.4"/>
<line x1="42.30" y1="990.30" x2="339.30" y2="990.30" stroke="#7a7a7a" stroke-width="1.1"/>
<line x1="39.50" y1="984.40" x2="43.00" y2="984.40" stroke="#6a6a6a" stroke-width="1"/>
<text x="24.20" y="987.75" font-family="Liberation Sans" font-size="9.70" fill="#222">0.0</text>
<line x1="39.50" y1="952.60" x2="43.00" y2="952.60" stroke="#6a6a6a" stroke-width="1"/>
<text x="24.20" y="955.95" font-family="Liberation Sans" font-size="9.70" fill="#222">1.0</text>
<line x1="39.50" y1="920.80" x2="43.00" y2="920.80" stroke="#6a6a6a" stroke-width="1"/>
<text x="24.20" y="924.15" font-family="Liberation Sans" font-size="9.70" fill="#222">2.0</text>
<line x1="39.50" y1="889.00" x2="43.00" y2="889.00" stroke="#6a6a6a" stroke-width="1"/>
<text x="24.20" y="892.35" font-family="Liberation Sans" font-size="9.70" fill="#222">3.0</text>
<line x1="39.50" y1="857.20" x2="43.00" y2="857.20" stroke="#6a6a6a" stroke-width="1"/>
<text x="24.20" y="860.55" font-family="Liberation Sans" font-size="9.70" fill="#222">4.0</text>
<line x1="39.50" y1="825.40" x2="43.00" y2="825.40" stroke="#6a6a6a" stroke-width="1"/>
<text x="24.20" y="828.75" font-family="Liberation Sans" font-size="9.70" fill="#222">5.0</text>
<line x1="39.50" y1="793.60" x2="43.00" y2="793.60" stroke="#6a6a6a" stroke-width="1"/>
<text x="24.20" y="796.95" font-family="Liberation Sans" font-size="9.70" fill="#222">6.0</text>
<line x1="58.40" y1="990.30" x2="58.40" y2="993.80" stroke="#6a6a6a" stroke-width="1"/>
<text x="55.71" y="1004.95" font-family="Liberation Sans" font-size="9.70" fill="#222">5</text>
<line x1="97.80" y1="990.30" x2="97.80" y2="993.80" stroke="#6a6a6a" stroke-width="1"/>
<text x="95.08" y="1005.00" font-family="Liberation Sans" font-size="9.70" fill="#222">6</text>
<line x1="137.20" y1="990.30" x2="137.20" y2="993.80" stroke="#6a6a6a" stroke-width="1"/>
<text x="134.51" y="1005.00" font-family="Liberation Sans" font-size="9.70" fill="#222">7</text>
<line x1="176.60" y1="990.30" x2="176.60" y2="993.80" stroke="#6a6a6a" stroke-width="1"/>
<text x="173.88" y="1005.00" font-family="Liberation Sans" font-size="9.70" fill="#222">8</text>
<line x1="216.00" y1="990.30" x2="216.00" y2="993.80" stroke="#6a6a6a" stroke-width="1"/>
<text x="213.31" y="1005.00" font-family="Liberation Sans" font-size="9.70" fill="#222">9</text>
<line x1="255.40" y1="990.30" x2="255.40" y2="993.80" stroke="#6a6a6a" stroke-width="1"/>
<text x="249.85" y="1005.00" font-family="Liberation Sans" font-size="9.70" fill="#222">10</text>
<line x1="294.80" y1="990.30" x2="294.80" y2="993.80" stroke="#6a6a6a" stroke-width="1"/>
<text x="289.66" y="1005.00" font-family="Liberation Sans" font-size="9.70" fill="#222">11</text>
<line x1="334.20" y1="990.30" x2="334.20" y2="993.80" stroke="#6a6a6a" stroke-width="1"/>
<text x="328.70" y="1005.04" font-family="Liberation Sans" font-size="9.70" fill="#222">12</text>
<line x1="43.50" y1="952.40" x2="340.20" y2="952.40" stroke="#a0a0a0" stroke-width="1.5" stroke-dasharray="2 1.8"/>
<path d="M49.2,978.2 L50.7,978.2 L52.2,978.1 L53.7,978.1 L55.2,978.0 L56.7,977.9 L58.2,977.8 L59.7,977.8 L61.2,977.7 L62.7,977.6 L64.1,977.5 L65.6,977.4 L67.1,977.3 L68.6,977.2 L70.1,977.1 L71.6,977.0 L73.1,976.9 L74.6,976.7 L76.1,976.6 L77.6,976.5 L79.1,976.4 L80.6,976.2 L82.1,976.1 L83.6,975.9 L85.1,975.8 L86.6,975.6 L88.1,975.5 L89.6,975.3 L91.0,975.1 L92.5,975.0 L94.0,974.8 L95.5,974.6 L97.0,974.4 L98.5,974.2 L100.0,974.0 L101.5,973.8 L103.0,973.6 L104.5,973.3 L106.0,973.1 L107.5,972.9 L109.0,972.6 L110.5,972.4 L112.0,972.1 L113.5,971.9 L115.0,971.6 L116.5,971.3 L117.9,971.0 L119.4,970.8 L120.9,970.5 L122.4,970.2 L123.9,969.8 L125.4,969.5 L126.9,969.2 L128.4,968.9 L129.9,968.5 L131.4,968.2 L132.9,967.8 L134.4,967.4 L135.9,967.1 L137.4,966.7 L138.9,966.3 L140.4,965.9 L141.9,965.5 L143.4,965.0 L144.9,964.6 L146.3,964.2 L147.8,963.7 L149.3,963.3 L150.8,962.8 L152.3,962.4 L153.8,961.9 L155.3,961.4 L156.8,960.9 L158.3,960.4 L159.8,959.9 L161.3,959.4 L162.8,958.8 L164.3,958.3 L165.8,957.8 L167.3,957.2 L168.8,956.7 L170.3,956.2 L171.8,955.6 L173.2,955.1 L174.7,954.6 L176.2,954.1 L177.7,953.6 L179.2,953.1 L180.7,952.6 L182.2,952.2 L183.7,951.8 L185.2,951.4 L186.7,951.0 L188.2,950.6 L189.7,950.2 L191.2,949.9 L192.7,949.6 L194.2,949.3 L195.7,949.0 L197.2,948.7 L198.7,948.4 L200.1,948.1 L201.6,947.9 L203.1,947.6 L204.6,947.4 L206.1,947.1 L207.6,946.9 L209.1,946.7 L210.6,946.4 L212.1,946.2 L213.6,945.9 L215.1,945.7 L216.6,945.4 L218.1,945.1 L219.6,944.8 L221.1,944.5 L222.6,944.2 L224.1,943.9 L225.6,943.5 L227.0,943.2 L228.5,942.8 L230.0,942.3 L231.5,941.8 L233.0,941.3 L234.5,940.7 L236.0,940.1 L237.5,939.4 L239.0,938.7 L240.5,937.9 L242.0,937.0 L243.5,936.0 L245.0,934.9 L246.5,933.8 L248.0,932.6 L249.5,931.4 L251.0,930.2 L252.5,928.9 L254.0,927.6 L255.4,926.2 L256.9,924.8 L258.4,923.4 L259.9,922.0 L261.4,920.5 L262.9,918.9 L264.4,917.3 L265.9,915.7 L267.4,914.1 L268.9,912.4 L270.4,910.6 L271.9,908.8 L273.4,906.9 L274.9,905.0 L276.4,903.0 L277.9,901.0 L279.4,898.8 L280.9,896.7 L282.3,894.4 L283.8,892.1 L285.3,889.7 L286.8,887.2 L288.3,884.7 L289.8,882.0 L291.3,879.3 L292.8,876.4 L294.3,873.5 L295.8,870.5 L297.3,867.4 L298.8,864.1 L300.3,860.8 L301.8,857.4 L303.3,853.8 L304.8,850.2 L306.3,846.4 L307.8,842.6 L309.2,838.6 L310.7,834.5 L312.2,830.3 L313.7,826.0 L315.2,821.5 L316.7,817.0 L318.2,812.3 L319.7,807.5 L321.2,802.6 L322.7,797.5" fill="none" stroke="#74c274" stroke-width="1.3" stroke-dasharray="1.4 1.8"/>
<path d="M49.2,983.6 L50.7,983.6 L52.2,983.7 L53.7,983.7 L55.2,983.7 L56.7,983.7 L58.2,983.7 L59.7,983.7 L61.2,983.7 L62.7,983.7 L64.2,983.7 L65.6,983.7 L67.1,983.7 L68.6,983.7 L70.1,983.7 L71.6,983.7 L73.1,983.7 L74.6,983.6 L76.1,983.6 L77.6,983.6 L79.1,983.6 L80.6,983.6 L82.1,983.5 L83.6,983.5 L85.1,983.5 L86.6,983.4 L88.1,983.4 L89.6,983.3 L91.1,983.3 L92.6,983.2 L94.1,983.2 L95.5,983.1 L97.0,983.0 L98.5,982.9 L100.0,982.9 L101.5,982.8 L103.0,982.7 L104.5,982.6 L106.0,982.4 L107.5,982.3 L109.0,982.2 L110.5,982.0 L112.0,981.9 L113.5,981.7 L115.0,981.5 L116.5,981.3 L118.0,981.1 L119.5,980.9 L121.0,980.6 L122.5,980.3 L124.0,980.1 L125.4,979.8 L126.9,979.4 L128.4,979.1 L129.9,978.7 L131.4,978.3 L132.9,977.9 L134.4,977.4 L135.9,976.9 L137.4,976.4 L138.9,975.9 L140.4,975.3 L141.9,974.7 L143.4,974.0 L144.9,973.4 L146.4,972.7 L147.9,971.9 L149.4,971.2 L150.9,970.4 L152.4,969.5 L153.9,968.7 L155.4,967.8 L156.8,966.9 L158.3,966.0 L159.8,965.1 L161.3,964.1 L162.8,963.2 L164.3,962.2 L165.8,961.2 L167.3,960.3 L168.8,959.4 L170.3,958.5 L171.8,957.6 L173.3,956.8 L174.8,956.0 L176.3,955.3 L177.8,954.7 L179.3,954.2 L180.8,953.8 L182.3,953.6 L183.8,953.5 L185.3,953.5 L186.7,953.7 L188.2,953.9 L189.7,954.2 L191.2,954.6 L192.7,955.1 L194.2,955.6 L195.7,956.1 L197.2,956.6 L198.7,957.2 L200.2,957.7 L201.7,958.2 L203.2,958.7 L204.7,959.1 L206.2,959.5 L207.7,959.9 L209.2,960.2 L210.7,960.4 L212.2,960.5 L213.7,960.6 L215.2,960.6 L216.6,960.5 L218.1,960.4 L219.6,960.2 L221.1,960.0 L222.6,959.8 L224.1,959.5 L225.6,959.1 L227.1,958.8 L228.6,958.4 L230.1,958.1 L231.6,957.7 L233.1,957.3 L234.6,957.0 L236.1,956.6 L237.6,956.3 L239.1,955.9 L240.6,955.6 L242.1,955.2 L243.6,954.9 L245.1,954.5 L246.6,954.2 L248.0,953.9 L249.5,953.6 L251.0,953.3 L252.5,953.0 L254.0,952.7 L255.5,952.4 L257.0,952.1 L258.5,951.8 L260.0,951.5 L261.5,951.2 L263.0,951.0 L264.5,950.7 L266.0,950.5 L267.5,950.2 L269.0,950.0 L270.5,949.7 L272.0,949.5 L273.5,949.3 L275.0,949.1 L276.5,948.9 L277.9,948.7 L279.4,948.5 L280.9,948.3 L282.4,948.1 L283.9,947.9 L285.4,947.8 L286.9,947.6 L288.4,947.4 L289.9,947.3 L291.4,947.1 L292.9,947.0 L294.4,946.8 L295.9,946.7 L297.4,946.5 L298.9,946.4 L300.4,946.2 L301.9,946.1 L303.4,946.0 L304.9,945.9 L306.4,945.7 L307.8,945.6 L309.3,945.5 L310.8,945.4 L312.3,945.2 L313.8,945.1 L315.3,945.0 L316.8,944.9 L318.3,944.8 L319.8,944.6 L321.3,944.5 L322.8,944.4" fill="none" stroke="#74c274" stroke-width="1.3" stroke-dasharray="1.4 1.8"/>
<path d="M49.2,982.3 L50.7,982.3 L52.2,982.3 L53.7,982.2 L55.2,982.2 L56.7,982.1 L58.2,982.1 L59.7,982.0 L61.1,982.0 L62.6,981.9 L64.1,981.9 L65.6,981.8 L67.1,981.8 L68.6,981.7 L70.1,981.6 L71.6,981.5 L73.1,981.5 L74.6,981.4 L76.1,981.3 L77.6,981.2 L79.1,981.1 L80.6,981.0 L82.1,980.9 L83.5,980.8 L85.0,980.7 L86.5,980.6 L88.0,980.4 L89.5,980.3 L91.0,980.2 L92.5,980.0 L94.0,979.9 L95.5,979.7 L97.0,979.6 L98.5,979.4 L100.0,979.2 L101.5,979.0 L103.0,978.8 L104.5,978.6 L106.0,978.4 L107.4,978.2 L108.9,978.0 L110.4,977.7 L111.9,977.5 L113.4,977.2 L114.9,977.0 L116.4,976.7 L117.9,976.4 L119.4,976.1 L120.9,975.8 L122.4,975.5 L123.9,975.1 L125.4,974.8 L126.9,974.4 L128.4,974.1 L129.8,973.7 L131.3,973.3 L132.8,972.9 L134.3,972.4 L135.8,972.0 L137.3,971.5 L138.8,971.1 L140.3,970.6 L141.8,970.1 L143.3,969.6 L144.8,969.0 L146.3,968.5 L147.8,967.9 L149.3,967.3 L150.8,966.8 L152.2,966.1 L153.7,965.5 L155.2,964.9 L156.7,964.2 L158.2,963.6 L159.7,962.9 L161.2,962.2 L162.7,961.5 L164.2,960.8 L165.7,960.1 L167.2,959.4 L168.7,958.6 L170.2,957.9 L171.7,957.2 L173.2,956.6 L174.6,955.9 L176.1,955.3 L177.6,954.7 L179.1,954.1 L180.6,953.6 L182.1,953.1 L183.6,952.7 L185.1,952.4 L186.6,952.1 L188.1,951.9 L189.6,951.8 L191.1,951.7 L192.6,951.7 L194.1,951.7 L195.6,951.8 L197.1,951.9 L198.5,952.0 L200.0,952.2 L201.5,952.3 L203.0,952.5 L204.5,952.7 L206.0,952.9 L207.5,953.1 L209.0,953.3 L210.5,953.5 L212.0,953.6 L213.5,953.7 L215.0,953.8 L216.5,953.8 L218.0,953.8 L219.5,953.7 L220.9,953.6 L222.4,953.4 L223.9,953.1 L225.4,952.8 L226.9,952.5 L228.4,952.0 L229.9,951.6 L231.4,951.1 L232.9,950.5 L234.4,950.0 L235.9,949.4 L237.4,948.8 L238.9,948.1 L240.4,947.5 L241.9,946.9 L243.3,946.2 L244.8,945.5 L246.3,944.9 L247.8,944.2 L249.3,943.5 L250.8,942.8 L252.3,942.1 L253.8,941.3 L255.3,940.6 L256.8,939.8 L258.3,939.1 L259.8,938.3 L261.3,937.5 L262.8,936.7 L264.3,935.9 L265.7,935.1 L267.2,934.3 L268.7,933.5 L270.2,932.6 L271.7,931.8 L273.2,930.9 L274.7,930.0 L276.2,929.1 L277.7,928.2 L279.2,927.3 L280.7,926.4 L282.2,925.5 L283.7,924.5 L285.2,923.6 L286.7,922.6 L288.2,921.7 L289.6,920.7 L291.1,919.7 L292.6,918.7 L294.1,917.7 L295.6,916.7 L297.1,915.7 L298.6,914.7 L300.1,913.6 L301.6,912.6 L303.1,911.5 L304.6,910.5 L306.1,909.4 L307.6,908.4 L309.1,907.3 L310.6,906.2 L312.0,905.2 L313.5,904.1 L315.0,903.0 L316.5,901.9 L318.0,900.8 L319.5,899.7 L321.0,898.6 L322.5,897.5" fill="none" stroke="#228b22" stroke-width="1.5" stroke-linecap="round" stroke-linejoin="round"/>
<text x="1.24" y="797.22" font-family="Liberation Serif" font-size="17.76" fill="#111">G</text>
<text transform="translate(8.76,939.61) rotate(-90)" x="0" y="0" font-family="Liberation Sans" font-size="11.30" fill="#222">Odds Ratio (95%CI)</text>
<text x="181.80" y="1023.81" font-family="Liberation Sans" font-size="11.90" fill="#222">CTI</text>
<text x="264.78" y="792.52" font-family="Liberation Sans" font-size="7.74" fill="#222">P=0.0046</text>
<text x="154.76" y="792.91" font-family="Liberation Sans" font-size="9.27" fill="#222">Heart attack</text>
<line x1="408.00" y1="801.40" x2="408.00" y2="990.30" stroke="#9a9a9a" stroke-width="1.4"/>
<line x1="407.30" y1="990.30" x2="685.00" y2="990.30" stroke="#7a7a7a" stroke-width="1.1"/>
<line x1="404.50" y1="984.30" x2="408.00" y2="984.30" stroke="#6a6a6a" stroke-width="1"/>
<text x="390.15" y="987.40" font-family="Liberation Sans" font-size="9.00" fill="#222">0.0</text>
<line x1="404.50" y1="949.80" x2="408.00" y2="949.80" stroke="#6a6a6a" stroke-width="1"/>
<text x="390.15" y="952.90" font-family="Liberation Sans" font-size="9.00" fill="#222">1.0</text>
<line x1="404.50" y1="915.30" x2="408.00" y2="915.30" stroke="#6a6a6a" stroke-width="1"/>
<text x="390.15" y="918.40" font-family="Liberation Sans" font-size="9.00" fill="#222">2.0</text>
<line x1="404.50" y1="880.80" x2="408.00" y2="880.80" stroke="#6a6a6a" stroke-width="1"/>
<text x="390.15" y="883.90" font-family="Liberation Sans" font-size="9.00" fill="#222">3.0</text>
<line x1="404.50" y1="846.30" x2="408.00" y2="846.30" stroke="#6a6a6a" stroke-width="1"/>
<text x="390.15" y="849.40" font-family="Liberation Sans" font-size="9.00" fill="#222">4.0</text>
<line x1="404.50" y1="811.80" x2="408.00" y2="811.80" stroke="#6a6a6a" stroke-width="1"/>
<text x="390.15" y="814.90" font-family="Liberation Sans" font-size="9.00" fill="#222">5.0</text>
<line x1="422.50" y1="990.30" x2="422.50" y2="993.80" stroke="#6a6a6a" stroke-width="1"/>
<text x="420.00" y="1003.56" font-family="Liberation Sans" font-size="9.00" fill="#222">5</text>
<line x1="459.20" y1="990.30" x2="459.20" y2="993.80" stroke="#6a6a6a" stroke-width="1"/>
<text x="456.68" y="1003.61" font-family="Liberation Sans" font-size="9.00" fill="#222">6</text>
<line x1="495.90" y1="990.30" x2="495.90" y2="993.80" stroke="#6a6a6a" stroke-width="1"/>
<text x="493.40" y="1003.61" font-family="Liberation Sans" font-size="9.00" fill="#222">7</text>
<line x1="532.60" y1="990.30" x2="532.60" y2="993.80" stroke="#6a6a6a" stroke-width="1"/>
<text x="530.08" y="1003.61" font-family="Liberation Sans" font-size="9.00" fill="#222">8</text>
<line x1="569.30" y1="990.30" x2="569.30" y2="993.80" stroke="#6a6a6a" stroke-width="1"/>
<text x="566.80" y="1003.61" font-family="Liberation Sans" font-size="9.00" fill="#222">9</text>
<line x1="606.00" y1="990.30" x2="606.00" y2="993.80" stroke="#6a6a6a" stroke-width="1"/>
<text x="600.85" y="1003.61" font-family="Liberation Sans" font-size="9.00" fill="#222">10</text>
<line x1="642.70" y1="990.30" x2="642.70" y2="993.80" stroke="#6a6a6a" stroke-width="1"/>
<text x="637.93" y="1003.61" font-family="Liberation Sans" font-size="9.00" fill="#222">11</text>
<line x1="679.40" y1="990.30" x2="679.40" y2="993.80" stroke="#6a6a6a" stroke-width="1"/>
<text x="674.29" y="1003.65" font-family="Liberation Sans" font-size="9.00" fill="#222">12</text>
<line x1="408.50" y1="950.10" x2="685.00" y2="950.10" stroke="#a0a0a0" stroke-width="1.5" stroke-dasharray="2 1.8"/>
<path d="M413.9,969.6 L415.4,969.5 L416.9,969.4 L418.4,969.3 L419.9,969.2 L421.4,969.1 L422.9,969.0 L424.4,968.9 L425.9,968.8 L427.4,968.7 L428.9,968.5 L430.4,968.4 L431.9,968.3 L433.4,968.1 L434.9,968.0 L436.3,967.8 L437.8,967.7 L439.3,967.5 L440.8,967.4 L442.3,967.2 L443.8,967.1 L445.3,966.9 L446.8,966.7 L448.3,966.5 L449.8,966.3 L451.3,966.2 L452.8,966.0 L454.3,965.8 L455.8,965.6 L457.3,965.4 L458.8,965.2 L460.3,964.9 L461.8,964.7 L463.3,964.5 L464.8,964.3 L466.3,964.1 L467.8,963.8 L469.3,963.6 L470.8,963.4 L472.3,963.1 L473.8,962.9 L475.3,962.6 L476.8,962.4 L478.2,962.1 L479.7,961.9 L481.2,961.6 L482.7,961.4 L484.2,961.1 L485.7,960.9 L487.2,960.6 L488.7,960.3 L490.2,960.1 L491.7,959.8 L493.2,959.5 L494.7,959.3 L496.2,959.0 L497.7,958.7 L499.2,958.5 L500.7,958.2 L502.2,957.9 L503.7,957.6 L505.2,957.4 L506.7,957.1 L508.2,956.8 L509.7,956.6 L511.2,956.3 L512.7,956.0 L514.2,955.8 L515.7,955.5 L517.2,955.2 L518.7,955.0 L520.1,954.7 L521.6,954.5 L523.1,954.2 L524.6,954.0 L526.1,953.7 L527.6,953.4 L529.1,953.1 L530.6,952.8 L532.1,952.4 L533.6,952.0 L535.1,951.5 L536.6,950.9 L538.1,950.2 L539.6,949.4 L541.1,948.5 L542.6,947.5 L544.1,946.3 L545.6,945.1 L547.1,943.8 L548.6,942.5 L550.1,941.1 L551.6,939.6 L553.1,938.2 L554.6,936.7 L556.1,935.3 L557.6,934.0 L559.1,932.6 L560.6,931.4 L562.1,930.2 L563.5,929.1 L565.0,928.1 L566.5,927.1 L568.0,926.3 L569.5,925.5 L571.0,924.7 L572.5,924.0 L574.0,923.4 L575.5,922.8 L577.0,922.2 L578.5,921.7 L580.0,921.2 L581.5,920.7 L583.0,920.2 L584.5,919.7 L586.0,919.2 L587.5,918.7 L589.0,918.1 L590.5,917.6 L592.0,917.1 L593.5,916.5 L595.0,915.9 L596.5,915.3 L598.0,914.6 L599.5,913.9 L601.0,913.1 L602.5,912.3 L604.0,911.5 L605.4,910.6 L606.9,909.6 L608.4,908.5 L609.9,907.4 L611.4,906.1 L612.9,904.8 L614.4,903.3 L615.9,901.8 L617.4,900.1 L618.9,898.4 L620.4,896.6 L621.9,894.7 L623.4,892.7 L624.9,890.7 L626.4,888.6 L627.9,886.5 L629.4,884.3 L630.9,882.2 L632.4,880.0 L633.9,877.8 L635.4,875.5 L636.9,873.3 L638.4,871.0 L639.9,868.6 L641.4,866.3 L642.9,863.9 L644.4,861.4 L645.9,858.9 L647.3,856.3 L648.8,853.6 L650.3,850.9 L651.8,848.1 L653.3,845.1 L654.8,842.1 L656.3,839.0 L657.8,835.7 L659.3,832.3 L660.8,828.7 L662.3,825.0 L663.8,821.1 L665.3,817.0 L666.8,812.7 L668.3,808.2" fill="none" stroke="#74c274" stroke-width="1.3" stroke-dasharray="1.4 1.8"/>
<path d="M413.9,983.4 L415.4,983.4 L416.9,983.3 L418.4,983.3 L419.9,983.3 L421.4,983.3 L422.9,983.2 L424.4,983.2 L425.9,983.2 L427.4,983.1 L428.9,983.1 L430.4,983.0 L431.9,982.9 L433.4,982.9 L434.9,982.8 L436.3,982.7 L437.8,982.6 L439.3,982.6 L440.8,982.5 L442.3,982.4 L443.8,982.2 L445.3,982.1 L446.8,982.0 L448.3,981.9 L449.8,981.7 L451.3,981.6 L452.8,981.4 L454.3,981.2 L455.8,981.0 L457.3,980.8 L458.8,980.6 L460.3,980.4 L461.8,980.1 L463.3,979.9 L464.8,979.6 L466.3,979.3 L467.8,979.1 L469.3,978.8 L470.8,978.4 L472.3,978.1 L473.8,977.8 L475.3,977.4 L476.8,977.1 L478.2,976.7 L479.7,976.4 L481.2,976.0 L482.7,975.7 L484.2,975.3 L485.7,974.9 L487.2,974.5 L488.7,974.2 L490.2,973.8 L491.7,973.4 L493.2,973.0 L494.7,972.6 L496.2,972.1 L497.7,971.7 L499.2,971.3 L500.7,970.8 L502.2,970.3 L503.7,969.8 L505.2,969.3 L506.7,968.7 L508.2,968.1 L509.7,967.4 L511.2,966.7 L512.7,966.0 L514.2,965.2 L515.7,964.4 L517.2,963.5 L518.7,962.7 L520.1,961.7 L521.6,960.8 L523.1,959.8 L524.6,958.9 L526.1,957.9 L527.6,956.9 L529.1,956.0 L530.6,955.0 L532.1,954.2 L533.6,953.3 L535.1,952.6 L536.6,951.9 L538.1,951.3 L539.6,950.8 L541.1,950.4 L542.6,950.1 L544.1,949.9 L545.6,949.8 L547.1,949.8 L548.6,949.8 L550.1,949.8 L551.6,949.9 L553.1,950.0 L554.6,950.2 L556.1,950.3 L557.6,950.4 L559.1,950.5 L560.6,950.6 L562.1,950.7 L563.5,950.8 L565.0,950.8 L566.5,950.8 L568.0,950.8 L569.5,950.7 L571.0,950.6 L572.5,950.4 L574.0,950.2 L575.5,950.0 L577.0,949.8 L578.5,949.5 L580.0,949.2 L581.5,948.9 L583.0,948.6 L584.5,948.2 L586.0,947.9 L587.5,947.6 L589.0,947.3 L590.5,947.0 L592.0,946.7 L593.5,946.4 L595.0,946.2 L596.5,945.9 L598.0,945.8 L599.5,945.6 L601.0,945.5 L602.5,945.4 L604.0,945.3 L605.4,945.3 L606.9,945.3 L608.4,945.3 L609.9,945.3 L611.4,945.4 L612.9,945.4 L614.4,945.5 L615.9,945.7 L617.4,945.8 L618.9,946.0 L620.4,946.1 L621.9,946.3 L623.4,946.5 L624.9,946.7 L626.4,947.0 L627.9,947.2 L629.4,947.5 L630.9,947.7 L632.4,948.0 L633.9,948.2 L635.4,948.5 L636.9,948.8 L638.4,949.1 L639.9,949.4 L641.4,949.6 L642.9,949.9 L644.4,950.2 L645.9,950.5 L647.3,950.7 L648.8,951.0 L650.3,951.3 L651.8,951.5 L653.3,951.8 L654.8,952.0 L656.3,952.2 L657.8,952.5 L659.3,952.7 L660.8,952.9 L662.3,953.1 L663.8,953.3 L665.3,953.4 L666.8,953.6 L668.3,953.7" fill="none" stroke="#74c274" stroke-width="1.3" stroke-dasharray="1.4 1.8"/>
<path d="M413.9,980.4 L415.4,980.3 L416.9,980.2 L418.4,980.1 L419.9,980.0 L421.4,979.9 L422.9,979.7 L424.4,979.6 L425.9,979.5 L427.4,979.4 L428.9,979.2 L430.4,979.1 L431.9,978.9 L433.4,978.8 L434.9,978.6 L436.3,978.5 L437.8,978.3 L439.3,978.1 L440.8,977.9 L442.3,977.8 L443.8,977.6 L445.3,977.4 L446.8,977.2 L448.3,977.0 L449.8,976.8 L451.3,976.5 L452.8,976.3 L454.3,976.1 L455.8,975.8 L457.3,975.6 L458.8,975.3 L460.3,975.1 L461.8,974.8 L463.3,974.5 L464.8,974.3 L466.3,974.0 L467.8,973.7 L469.3,973.4 L470.8,973.0 L472.3,972.7 L473.8,972.4 L475.3,972.0 L476.8,971.7 L478.2,971.3 L479.7,971.0 L481.2,970.6 L482.7,970.2 L484.2,969.8 L485.7,969.4 L487.2,969.0 L488.7,968.6 L490.2,968.2 L491.7,967.7 L493.2,967.3 L494.7,966.8 L496.2,966.4 L497.7,965.9 L499.2,965.4 L500.7,964.9 L502.2,964.4 L503.7,963.9 L505.2,963.4 L506.7,962.9 L508.2,962.3 L509.7,961.8 L511.2,961.3 L512.7,960.7 L514.2,960.2 L515.7,959.6 L517.2,959.0 L518.7,958.4 L520.1,957.9 L521.6,957.3 L523.1,956.7 L524.6,956.1 L526.1,955.5 L527.6,954.9 L529.1,954.3 L530.6,953.7 L532.1,953.1 L533.6,952.5 L535.1,951.9 L536.6,951.3 L538.1,950.7 L539.6,950.1 L541.1,949.5 L542.6,948.9 L544.1,948.3 L545.6,947.7 L547.1,947.2 L548.6,946.6 L550.1,946.0 L551.6,945.5 L553.1,944.9 L554.6,944.4 L556.1,943.9 L557.6,943.4 L559.1,942.9 L560.6,942.4 L562.1,941.9 L563.5,941.5 L565.0,941.0 L566.5,940.6 L568.0,940.1 L569.5,939.7 L571.0,939.3 L572.5,938.9 L574.0,938.5 L575.5,938.1 L577.0,937.7 L578.5,937.3 L580.0,937.0 L581.5,936.6 L583.0,936.3 L584.5,935.9 L586.0,935.5 L587.5,935.2 L589.0,934.9 L590.5,934.5 L592.0,934.2 L593.5,933.8 L595.0,933.5 L596.5,933.1 L598.0,932.8 L599.5,932.5 L601.0,932.1 L602.5,931.8 L604.0,931.4 L605.4,931.0 L606.9,930.7 L608.4,930.3 L609.9,929.9 L611.4,929.5 L612.9,929.1 L614.4,928.7 L615.9,928.2 L617.4,927.8 L618.9,927.3 L620.4,926.9 L621.9,926.4 L623.4,925.9 L624.9,925.4 L626.4,924.9 L627.9,924.4 L629.4,923.9 L630.9,923.4 L632.4,922.8 L633.9,922.3 L635.4,921.8 L636.9,921.2 L638.4,920.7 L639.9,920.1 L641.4,919.6 L642.9,919.1 L644.4,918.5 L645.9,918.0 L647.3,917.4 L648.8,916.9 L650.3,916.4 L651.8,915.8 L653.3,915.3 L654.8,914.8 L656.3,914.3 L657.8,913.8 L659.3,913.3 L660.8,912.8 L662.3,912.4 L663.8,911.9 L665.3,911.5 L666.8,911.1 L668.3,910.7" fill="none" stroke="#228b22" stroke-width="1.5" stroke-linecap="round" stroke-linejoin="round"/>
<text x="371.56" y="798.40" font-family="Liberation Serif" font-size="16.79" fill="#111">H</text>
<text transform="translate(376.46,942.47) rotate(-90)" x="0" y="0" font-family="Liberation Sans" font-size="10.51" fill="#222">Odds Ratio (95%CI)</text>
<text x="537.75" y="1022.23" font-family="Liberation Sans" font-size="10.95" fill="#222">CTI</text>
<text x="621.03" y="807.22" font-family="Liberation Sans" font-size="7.15" fill="#222">P&lt;0.001</text>
<text x="525.11" y="807.13" font-family="Liberation Sans" font-size="8.75" fill="#222">Stroke</text>
</svg>
</body></html>
